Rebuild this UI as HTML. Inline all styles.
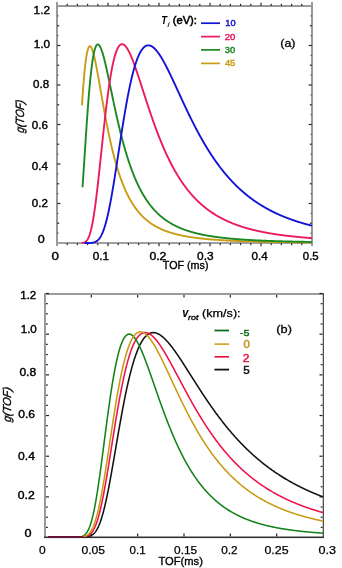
<!DOCTYPE html>
<html><head><meta charset="utf-8"><style>
html,body{margin:0;padding:0;background:#fff;width:342px;height:568px;overflow:hidden}
svg{display:block;will-change:transform}
</style></head><body>
<svg width="342" height="568" viewBox="0 0 342 568">
<rect x="56" y="2" width="2" height="244" fill="#999999"/>
<rect x="311" y="2" width="2" height="244" fill="#999999"/>
<rect x="56" y="5" width="257" height="2" fill="#999999"/>
<rect x="56" y="242" width="257" height="2" fill="#a0a0a0"/>
<rect x="66.60" y="243.2" width="1.2" height="2.0" fill="#2a2a2a"/>
<rect x="66.60" y="3.8" width="1.2" height="2.0" fill="#2a2a2a"/>
<rect x="76.80" y="243.2" width="1.2" height="2.0" fill="#2a2a2a"/>
<rect x="76.80" y="3.8" width="1.2" height="2.0" fill="#2a2a2a"/>
<rect x="87.00" y="243.2" width="1.2" height="2.0" fill="#2a2a2a"/>
<rect x="87.00" y="3.8" width="1.2" height="2.0" fill="#2a2a2a"/>
<rect x="97.20" y="243.2" width="1.2" height="2.0" fill="#2a2a2a"/>
<rect x="97.20" y="3.8" width="1.2" height="2.0" fill="#2a2a2a"/>
<rect x="107.40" y="243.2" width="1.2" height="3.0" fill="#2a2a2a"/>
<rect x="107.40" y="2.8" width="1.2" height="3.0" fill="#2a2a2a"/>
<rect x="117.60" y="243.2" width="1.2" height="2.0" fill="#2a2a2a"/>
<rect x="117.60" y="3.8" width="1.2" height="2.0" fill="#2a2a2a"/>
<rect x="127.80" y="243.2" width="1.2" height="2.0" fill="#2a2a2a"/>
<rect x="127.80" y="3.8" width="1.2" height="2.0" fill="#2a2a2a"/>
<rect x="138.00" y="243.2" width="1.2" height="2.0" fill="#2a2a2a"/>
<rect x="138.00" y="3.8" width="1.2" height="2.0" fill="#2a2a2a"/>
<rect x="148.20" y="243.2" width="1.2" height="2.0" fill="#2a2a2a"/>
<rect x="148.20" y="3.8" width="1.2" height="2.0" fill="#2a2a2a"/>
<rect x="158.40" y="243.2" width="1.2" height="3.0" fill="#2a2a2a"/>
<rect x="158.40" y="2.8" width="1.2" height="3.0" fill="#2a2a2a"/>
<rect x="168.60" y="243.2" width="1.2" height="2.0" fill="#2a2a2a"/>
<rect x="168.60" y="3.8" width="1.2" height="2.0" fill="#2a2a2a"/>
<rect x="178.80" y="243.2" width="1.2" height="2.0" fill="#2a2a2a"/>
<rect x="178.80" y="3.8" width="1.2" height="2.0" fill="#2a2a2a"/>
<rect x="189.00" y="243.2" width="1.2" height="2.0" fill="#2a2a2a"/>
<rect x="189.00" y="3.8" width="1.2" height="2.0" fill="#2a2a2a"/>
<rect x="199.20" y="243.2" width="1.2" height="2.0" fill="#2a2a2a"/>
<rect x="199.20" y="3.8" width="1.2" height="2.0" fill="#2a2a2a"/>
<rect x="209.40" y="243.2" width="1.2" height="3.0" fill="#2a2a2a"/>
<rect x="209.40" y="2.8" width="1.2" height="3.0" fill="#2a2a2a"/>
<rect x="219.60" y="243.2" width="1.2" height="2.0" fill="#2a2a2a"/>
<rect x="219.60" y="3.8" width="1.2" height="2.0" fill="#2a2a2a"/>
<rect x="229.80" y="243.2" width="1.2" height="2.0" fill="#2a2a2a"/>
<rect x="229.80" y="3.8" width="1.2" height="2.0" fill="#2a2a2a"/>
<rect x="240.00" y="243.2" width="1.2" height="2.0" fill="#2a2a2a"/>
<rect x="240.00" y="3.8" width="1.2" height="2.0" fill="#2a2a2a"/>
<rect x="250.20" y="243.2" width="1.2" height="2.0" fill="#2a2a2a"/>
<rect x="250.20" y="3.8" width="1.2" height="2.0" fill="#2a2a2a"/>
<rect x="260.40" y="243.2" width="1.2" height="3.0" fill="#2a2a2a"/>
<rect x="260.40" y="2.8" width="1.2" height="3.0" fill="#2a2a2a"/>
<rect x="270.60" y="243.2" width="1.2" height="2.0" fill="#2a2a2a"/>
<rect x="270.60" y="3.8" width="1.2" height="2.0" fill="#2a2a2a"/>
<rect x="280.80" y="243.2" width="1.2" height="2.0" fill="#2a2a2a"/>
<rect x="280.80" y="3.8" width="1.2" height="2.0" fill="#2a2a2a"/>
<rect x="291.00" y="243.2" width="1.2" height="2.0" fill="#2a2a2a"/>
<rect x="291.00" y="3.8" width="1.2" height="2.0" fill="#2a2a2a"/>
<rect x="301.20" y="243.2" width="1.2" height="2.0" fill="#2a2a2a"/>
<rect x="301.20" y="3.8" width="1.2" height="2.0" fill="#2a2a2a"/>
<rect x="57.2" y="232.53" width="1.3" height="1.2" fill="#555"/>
<rect x="310.50" y="232.53" width="1.3" height="1.2" fill="#555"/>
<rect x="57.2" y="222.65" width="2.0" height="1.2" fill="#2a2a2a"/>
<rect x="309.80" y="222.65" width="2.0" height="1.2" fill="#2a2a2a"/>
<rect x="57.2" y="212.78" width="1.3" height="1.2" fill="#555"/>
<rect x="310.50" y="212.78" width="1.3" height="1.2" fill="#555"/>
<rect x="57.2" y="202.90" width="3.2" height="1.2" fill="#2a2a2a"/>
<rect x="308.60" y="202.90" width="3.2" height="1.2" fill="#2a2a2a"/>
<rect x="57.2" y="193.03" width="1.3" height="1.2" fill="#555"/>
<rect x="310.50" y="193.03" width="1.3" height="1.2" fill="#555"/>
<rect x="57.2" y="183.15" width="2.0" height="1.2" fill="#2a2a2a"/>
<rect x="309.80" y="183.15" width="2.0" height="1.2" fill="#2a2a2a"/>
<rect x="57.2" y="173.28" width="1.3" height="1.2" fill="#555"/>
<rect x="310.50" y="173.28" width="1.3" height="1.2" fill="#555"/>
<rect x="57.2" y="163.40" width="3.2" height="1.2" fill="#2a2a2a"/>
<rect x="308.60" y="163.40" width="3.2" height="1.2" fill="#2a2a2a"/>
<rect x="57.2" y="153.53" width="1.3" height="1.2" fill="#555"/>
<rect x="310.50" y="153.53" width="1.3" height="1.2" fill="#555"/>
<rect x="57.2" y="143.65" width="2.0" height="1.2" fill="#2a2a2a"/>
<rect x="309.80" y="143.65" width="2.0" height="1.2" fill="#2a2a2a"/>
<rect x="57.2" y="133.78" width="1.3" height="1.2" fill="#555"/>
<rect x="310.50" y="133.78" width="1.3" height="1.2" fill="#555"/>
<rect x="57.2" y="123.90" width="3.2" height="1.2" fill="#2a2a2a"/>
<rect x="308.60" y="123.90" width="3.2" height="1.2" fill="#2a2a2a"/>
<rect x="57.2" y="114.03" width="1.3" height="1.2" fill="#555"/>
<rect x="310.50" y="114.03" width="1.3" height="1.2" fill="#555"/>
<rect x="57.2" y="104.15" width="2.0" height="1.2" fill="#2a2a2a"/>
<rect x="309.80" y="104.15" width="2.0" height="1.2" fill="#2a2a2a"/>
<rect x="57.2" y="94.28" width="1.3" height="1.2" fill="#555"/>
<rect x="310.50" y="94.28" width="1.3" height="1.2" fill="#555"/>
<rect x="57.2" y="84.40" width="3.2" height="1.2" fill="#2a2a2a"/>
<rect x="308.60" y="84.40" width="3.2" height="1.2" fill="#2a2a2a"/>
<rect x="57.2" y="74.53" width="1.3" height="1.2" fill="#555"/>
<rect x="310.50" y="74.53" width="1.3" height="1.2" fill="#555"/>
<rect x="57.2" y="64.65" width="2.0" height="1.2" fill="#2a2a2a"/>
<rect x="309.80" y="64.65" width="2.0" height="1.2" fill="#2a2a2a"/>
<rect x="57.2" y="54.77" width="1.3" height="1.2" fill="#555"/>
<rect x="310.50" y="54.77" width="1.3" height="1.2" fill="#555"/>
<rect x="57.2" y="44.90" width="3.2" height="1.2" fill="#2a2a2a"/>
<rect x="308.60" y="44.90" width="3.2" height="1.2" fill="#2a2a2a"/>
<rect x="57.2" y="35.02" width="1.3" height="1.2" fill="#555"/>
<rect x="310.50" y="35.02" width="1.3" height="1.2" fill="#555"/>
<rect x="57.2" y="25.15" width="2.0" height="1.2" fill="#2a2a2a"/>
<rect x="309.80" y="25.15" width="2.0" height="1.2" fill="#2a2a2a"/>
<rect x="57.2" y="15.28" width="1.3" height="1.2" fill="#555"/>
<rect x="310.50" y="15.28" width="1.3" height="1.2" fill="#555"/>
<path d="M81.97 105.40L82.35 99.48L82.73 93.85L83.12 88.52L83.50 83.51L83.89 78.83L84.27 74.47L84.65 70.46L85.04 66.77L85.42 63.42L85.81 60.40L86.19 57.69L86.57 55.30L86.96 53.22L87.34 51.43L87.73 49.93L88.11 48.70L88.49 47.74L88.88 47.02L89.26 46.55L89.65 46.30L90.03 46.26L90.41 46.43L90.80 46.78L91.18 47.31L91.57 48.01L91.95 48.87L92.33 49.86L92.72 51.00L93.10 52.25L93.49 53.62L93.87 55.09L94.25 56.66L94.64 58.32L95.02 60.05L95.41 61.85L95.79 63.72L96.17 65.65L96.56 67.63L96.94 69.65L97.33 71.71L97.71 73.80L98.10 75.92L98.48 78.06L98.86 80.23L99.25 82.41L99.63 84.60L100.02 86.79L100.40 88.99L100.78 91.20L101.17 93.40L101.55 95.60L101.94 97.79L102.32 99.97L102.70 102.14L103.09 104.29L103.47 106.44L103.86 108.57L104.24 110.68L104.62 112.77L105.01 114.84L105.39 116.89L105.78 118.92L106.16 120.92L106.54 122.91L106.93 124.87L107.31 126.80L107.70 128.71L108.08 130.60L108.46 132.46L108.85 134.29L109.23 136.10L109.62 137.88L110.00 139.63L110.38 141.36L110.77 143.06L111.15 144.74L111.54 146.39L111.92 148.01L112.30 149.61L112.69 151.18L113.07 152.72L113.46 154.24L113.84 155.73L114.22 157.20L114.61 158.65L114.99 160.06L115.38 161.46L115.76 162.83L116.14 164.18L116.53 165.50L116.91 166.80L117.30 168.07L117.68 169.33L118.06 170.56L118.45 171.77L118.83 172.95L119.22 174.12L119.60 175.26L119.98 176.39L120.37 177.49L120.75 178.57L121.14 179.64L121.52 180.68L121.91 181.71L122.29 182.71L122.67 183.70L123.06 184.67L123.44 185.62L123.83 186.56L124.21 187.47L124.59 188.37L124.98 189.26L125.36 190.13L125.75 190.98L126.13 191.81L126.51 192.63L126.90 193.44L127.28 194.23L127.67 195.01L128.05 195.77L128.43 196.52L128.82 197.25L129.20 197.97L129.59 198.68L129.97 199.37L130.35 200.05L130.74 200.72L131.12 201.38L131.51 202.03L131.89 202.66L132.27 203.28L132.66 203.89L133.04 204.49L133.43 205.08L133.81 205.66L134.19 206.23L134.58 206.79L134.96 207.33L135.35 207.87L135.73 208.40L136.11 208.92L136.50 209.43L136.88 209.93L137.27 210.42L137.65 210.90L138.03 211.38L138.42 211.84L138.80 212.30L139.19 212.75L139.57 213.19L139.95 213.63L140.34 214.05L140.72 214.47L141.11 214.89L141.49 215.29L141.87 215.69L142.26 216.08L142.64 216.46L143.03 216.84L143.41 217.21L143.79 217.58L144.18 217.94L144.56 218.29L144.95 218.63L145.33 218.97L145.71 219.31L146.10 219.64L146.48 219.96L146.87 220.28L147.25 220.59L147.64 220.90L148.02 221.20L148.40 221.50L148.79 221.79L149.17 222.08L149.56 222.36L149.94 222.64L150.32 222.92L150.71 223.19L151.09 223.45L151.48 223.71L151.86 223.97L152.24 224.22L152.63 224.47L153.01 224.71L153.40 224.95L153.78 225.19L154.16 225.42L154.55 225.65L154.93 225.87L155.32 226.10L155.70 226.31L156.08 226.53L156.47 226.74L156.85 226.95L157.24 227.15L157.62 227.35L158.00 227.55L158.39 227.75L158.77 227.94L159.16 228.13L159.54 228.32L159.92 228.50L160.31 228.68L160.69 228.86L161.08 229.03L161.46 229.21L161.84 229.38L162.23 229.54L162.61 229.71L163.00 229.87L163.38 230.03L163.76 230.19L164.15 230.34L164.53 230.50L164.92 230.65L165.30 230.79L165.68 230.94L166.07 231.08L166.45 231.23L166.84 231.37L167.22 231.50L167.60 231.64L167.99 231.77L168.37 231.90L168.76 232.03L169.14 232.16L169.52 232.29L169.91 232.41L170.29 232.54L170.68 232.66L171.06 232.77L171.44 232.89L171.83 233.01L172.21 233.12L172.60 233.23L172.98 233.35L173.37 233.45L173.75 233.56L174.13 233.67L174.52 233.77L174.90 233.88L175.29 233.98L175.67 234.08L176.05 234.18L176.44 234.28L176.82 234.37L177.21 234.47L177.59 234.56L177.97 234.65L178.36 234.74L178.74 234.83L179.13 234.92L179.51 235.01L179.89 235.10L180.28 235.18L180.66 235.27L181.05 235.35L181.43 235.43L181.81 235.51L182.20 235.59L182.58 235.67L182.97 235.75L183.35 235.82L183.73 235.90L184.12 235.97L184.50 236.05L184.89 236.12L185.27 236.19L185.65 236.26L186.04 236.33L186.42 236.40L186.81 236.47L187.19 236.54L187.57 236.60L187.96 236.67L188.34 236.73L188.73 236.80L189.11 236.86L189.49 236.92L189.88 236.98L190.26 237.05L190.65 237.11L191.03 237.16L191.41 237.22L191.80 237.28L192.18 237.34L192.57 237.39L192.95 237.45L193.33 237.50L193.72 237.56L194.10 237.61L194.49 237.66L194.87 237.72L195.25 237.77L195.64 237.82L196.02 237.87L196.41 237.92L196.79 237.97L197.17 238.02L197.56 238.06L197.94 238.11L198.33 238.16L198.71 238.21L199.10 238.25L199.48 238.30L199.86 238.34L200.25 238.38L200.63 238.43L201.02 238.47L201.40 238.51L201.78 238.56L202.17 238.60L202.55 238.64L202.94 238.68L203.32 238.72L203.70 238.76L204.09 238.80L204.47 238.84L204.86 238.88L205.24 238.91L205.62 238.95L206.01 238.99L206.39 239.02L206.78 239.06L207.16 239.10L207.54 239.13L207.93 239.17L208.31 239.20L208.70 239.23L209.08 239.27L209.46 239.30L209.85 239.33L210.23 239.37L210.62 239.40L211.00 239.43L211.38 239.46L211.77 239.49L212.15 239.53L212.54 239.56L212.92 239.59L213.30 239.62L213.69 239.65L214.07 239.67L214.46 239.70L214.84 239.73L215.22 239.76L215.61 239.79L215.99 239.82L216.38 239.84L216.76 239.87L217.14 239.90L217.53 239.92L217.91 239.95L218.30 239.98L218.68 240.00L219.06 240.03L219.45 240.05L219.83 240.08L220.22 240.10L220.60 240.13L220.98 240.15L221.37 240.17L221.75 240.20L222.14 240.22L222.52 240.24L222.90 240.27L223.29 240.29L223.67 240.31L224.06 240.33L224.44 240.36L224.83 240.38L225.21 240.40L225.59 240.42L225.98 240.44L226.36 240.46L226.75 240.48L227.13 240.50L227.51 240.52L227.90 240.54L228.28 240.56L228.67 240.58L229.05 240.60L229.43 240.62L229.82 240.64L230.20 240.66L230.59 240.68L230.97 240.70L231.35 240.71L231.74 240.73L232.12 240.75L232.51 240.77L232.89 240.78L233.27 240.80L233.66 240.82L234.04 240.84L234.43 240.85L234.81 240.87L235.19 240.89L235.58 240.90L235.96 240.92L236.35 240.93L236.73 240.95L237.11 240.97L237.50 240.98L237.88 241.00L238.27 241.01L238.65 241.03L239.03 241.04L239.42 241.06L239.80 241.07L240.19 241.09L240.57 241.10L240.95 241.12L241.34 241.13L241.72 241.14L242.11 241.16L242.49 241.17L242.87 241.19L243.26 241.20L243.64 241.21L244.03 241.23L244.41 241.24L244.79 241.25L245.18 241.26L245.56 241.28L245.95 241.29L246.33 241.30L246.71 241.31L247.10 241.33L247.48 241.34L247.87 241.35L248.25 241.36L248.64 241.37L249.02 241.39L249.40 241.40L249.79 241.41L250.17 241.42L250.56 241.43L250.94 241.44L251.32 241.45L251.71 241.47L252.09 241.48L252.48 241.49L252.86 241.50L253.24 241.51L253.63 241.52L254.01 241.53L254.40 241.54L254.78 241.55L255.16 241.56L255.55 241.57L255.93 241.58L256.32 241.59L256.70 241.60L257.08 241.61L257.47 241.62L257.85 241.63L258.24 241.64L258.62 241.65L259.00 241.66L259.39 241.67L259.77 241.68L260.16 241.69L260.54 241.69L260.92 241.70L261.31 241.71L261.69 241.72L262.08 241.73L262.46 241.74L262.84 241.75L263.23 241.76L263.61 241.76L264.00 241.77L264.38 241.78L264.76 241.79L265.15 241.80L265.53 241.80L265.92 241.81L266.30 241.82L266.68 241.83L267.07 241.84L267.45 241.84L267.84 241.85L268.22 241.86L268.60 241.87L268.99 241.87L269.37 241.88L269.76 241.89L270.14 241.90L270.52 241.90L270.91 241.91L271.29 241.92L271.68 241.92L272.06 241.93L272.44 241.94L272.83 241.95L273.21 241.95L273.60 241.96L273.98 241.97L274.37 241.97L274.75 241.98L275.13 241.99L275.52 241.99L275.90 242.00L276.29 242.00L276.67 242.01L277.05 242.02L277.44 242.02L277.82 242.03L278.21 242.04L278.59 242.04L278.97 242.05L279.36 242.05L279.74 242.06L280.13 242.07L280.51 242.07L280.89 242.08L281.28 242.08L281.66 242.09L282.05 242.09L282.43 242.10L282.81 242.11L283.20 242.11L283.58 242.12L283.97 242.12L284.35 242.13L284.73 242.13L285.12 242.14L285.50 242.14L285.89 242.15L286.27 242.15L286.65 242.16L287.04 242.16L287.42 242.17L287.81 242.17L288.19 242.18L288.57 242.18L288.96 242.19L289.34 242.19L289.73 242.20L290.11 242.20L290.49 242.21L290.88 242.21L291.26 242.22L291.65 242.22L292.03 242.23L292.41 242.23L292.80 242.24L293.18 242.24L293.57 242.25L293.95 242.25L294.33 242.25L294.72 242.26L295.10 242.26L295.49 242.27L295.87 242.27L296.25 242.28L296.64 242.28L297.02 242.28L297.41 242.29L297.79 242.29L298.17 242.30L298.56 242.30L298.94 242.31L299.33 242.31L299.71 242.31L300.10 242.32L300.48 242.32L300.86 242.32L301.25 242.33L301.63 242.33L302.02 242.34L302.40 242.34L302.78 242.34L303.17 242.35L303.55 242.35L303.94 242.36L304.32 242.36L304.70 242.36L305.09 242.37L305.47 242.37L305.86 242.37L306.24 242.38L306.62 242.38L307.01 242.38L307.39 242.39L307.78 242.39L308.16 242.39L308.54 242.40L308.93 242.40L309.31 242.40L309.70 242.41L310.08 242.41L310.46 242.41L310.85 242.42L311.23 242.42L311.62 242.42L312.00 242.43" fill="none" stroke="#c99d17" stroke-width="1.9" stroke-linejoin="round"/>
<path d="M82.50 187.20L82.89 181.72L83.27 176.10L83.65 170.37L84.03 164.56L84.42 158.69L84.80 152.81L85.18 146.93L85.57 141.08L85.95 135.28L86.33 129.57L86.72 123.96L87.10 118.47L87.48 113.11L87.87 107.92L88.25 102.89L88.63 98.05L89.02 93.40L89.40 88.95L89.78 84.71L90.16 80.68L90.55 76.87L90.93 73.29L91.31 69.93L91.70 66.79L92.08 63.88L92.46 61.18L92.85 58.71L93.23 56.45L93.61 54.41L94.00 52.57L94.38 50.94L94.76 49.50L95.15 48.26L95.53 47.20L95.91 46.33L96.29 45.62L96.68 45.08L97.06 44.71L97.44 44.48L97.83 44.41L98.21 44.47L98.59 44.67L98.98 44.99L99.36 45.43L99.74 45.99L100.13 46.66L100.51 47.42L100.89 48.29L101.28 49.24L101.66 50.27L102.04 51.39L102.42 52.58L102.81 53.84L103.19 55.16L103.57 56.54L103.96 57.98L104.34 59.46L104.72 60.99L105.11 62.57L105.49 64.18L105.87 65.83L106.26 67.50L106.64 69.21L107.02 70.94L107.41 72.69L107.79 74.47L108.17 76.26L108.56 78.06L108.94 79.87L109.32 81.70L109.70 83.53L110.09 85.36L110.47 87.20L110.85 89.04L111.24 90.88L111.62 92.72L112.00 94.56L112.39 96.39L112.77 98.22L113.15 100.03L113.54 101.85L113.92 103.65L114.30 105.44L114.69 107.22L115.07 108.99L115.45 110.75L115.83 112.49L116.22 114.22L116.60 115.94L116.98 117.64L117.37 119.33L117.75 121.00L118.13 122.65L118.52 124.29L118.90 125.91L119.28 127.51L119.67 129.10L120.05 130.67L120.43 132.22L120.82 133.75L121.20 135.27L121.58 136.77L121.96 138.25L122.35 139.71L122.73 141.15L123.11 142.57L123.50 143.98L123.88 145.37L124.26 146.74L124.65 148.09L125.03 149.42L125.41 150.74L125.80 152.04L126.18 153.32L126.56 154.58L126.95 155.83L127.33 157.05L127.71 158.26L128.10 159.46L128.48 160.63L128.86 161.79L129.24 162.93L129.63 164.06L130.01 165.17L130.39 166.26L130.78 167.34L131.16 168.40L131.54 169.45L131.93 170.48L132.31 171.49L132.69 172.49L133.08 173.47L133.46 174.44L133.84 175.40L134.23 176.34L134.61 177.27L134.99 178.18L135.37 179.08L135.76 179.96L136.14 180.84L136.52 181.69L136.91 182.54L137.29 183.37L137.67 184.19L138.06 185.00L138.44 185.79L138.82 186.58L139.21 187.35L139.59 188.11L139.97 188.85L140.36 189.59L140.74 190.31L141.12 191.03L141.50 191.73L141.89 192.42L142.27 193.10L142.65 193.77L143.04 194.43L143.42 195.08L143.80 195.72L144.19 196.35L144.57 196.98L144.95 197.59L145.34 198.19L145.72 198.78L146.10 199.37L146.49 199.94L146.87 200.51L147.25 201.06L147.63 201.61L148.02 202.15L148.40 202.69L148.78 203.21L149.17 203.73L149.55 204.24L149.93 204.74L150.32 205.23L150.70 205.72L151.08 206.20L151.47 206.67L151.85 207.13L152.23 207.59L152.62 208.04L153.00 208.48L153.38 208.92L153.77 209.35L154.15 209.78L154.53 210.19L154.91 210.61L155.30 211.01L155.68 211.41L156.06 211.80L156.45 212.19L156.83 212.57L157.21 212.95L157.60 213.32L157.98 213.69L158.36 214.05L158.75 214.40L159.13 214.75L159.51 215.10L159.90 215.44L160.28 215.77L160.66 216.10L161.04 216.43L161.43 216.75L161.81 217.06L162.19 217.37L162.58 217.68L162.96 217.98L163.34 218.28L163.73 218.58L164.11 218.87L164.49 219.15L164.88 219.43L165.26 219.71L165.64 219.98L166.03 220.25L166.41 220.52L166.79 220.78L167.17 221.04L167.56 221.30L167.94 221.55L168.32 221.79L168.71 222.04L169.09 222.28L169.47 222.52L169.86 222.75L170.24 222.98L170.62 223.21L171.01 223.44L171.39 223.66L171.77 223.88L172.16 224.09L172.54 224.30L172.92 224.51L173.31 224.72L173.69 224.93L174.07 225.13L174.45 225.33L174.84 225.52L175.22 225.71L175.60 225.91L175.99 226.09L176.37 226.28L176.75 226.46L177.14 226.64L177.52 226.82L177.90 227.00L178.29 227.17L178.67 227.34L179.05 227.51L179.44 227.68L179.82 227.84L180.20 228.01L180.58 228.17L180.97 228.33L181.35 228.48L181.73 228.64L182.12 228.79L182.50 228.94L182.88 229.09L183.27 229.23L183.65 229.38L184.03 229.52L184.42 229.66L184.80 229.80L185.18 229.94L185.57 230.07L185.95 230.21L186.33 230.34L186.71 230.47L187.10 230.60L187.48 230.73L187.86 230.85L188.25 230.98L188.63 231.10L189.01 231.22L189.40 231.34L189.78 231.46L190.16 231.57L190.55 231.69L190.93 231.80L191.31 231.91L191.70 232.03L192.08 232.14L192.46 232.24L192.84 232.35L193.23 232.46L193.61 232.56L193.99 232.66L194.38 232.76L194.76 232.87L195.14 232.96L195.53 233.06L195.91 233.16L196.29 233.26L196.68 233.35L197.06 233.44L197.44 233.54L197.83 233.63L198.21 233.72L198.59 233.81L198.98 233.89L199.36 233.98L199.74 234.07L200.12 234.15L200.51 234.24L200.89 234.32L201.27 234.40L201.66 234.48L202.04 234.56L202.42 234.64L202.81 234.72L203.19 234.80L203.57 234.88L203.96 234.95L204.34 235.03L204.72 235.10L205.11 235.17L205.49 235.24L205.87 235.32L206.25 235.39L206.64 235.46L207.02 235.53L207.40 235.59L207.79 235.66L208.17 235.73L208.55 235.79L208.94 235.86L209.32 235.92L209.70 235.99L210.09 236.05L210.47 236.11L210.85 236.17L211.24 236.24L211.62 236.30L212.00 236.36L212.38 236.42L212.77 236.47L213.15 236.53L213.53 236.59L213.92 236.64L214.30 236.70L214.68 236.76L215.07 236.81L215.45 236.86L215.83 236.92L216.22 236.97L216.60 237.02L216.98 237.08L217.37 237.13L217.75 237.18L218.13 237.23L218.51 237.28L218.90 237.33L219.28 237.37L219.66 237.42L220.05 237.47L220.43 237.52L220.81 237.56L221.20 237.61L221.58 237.65L221.96 237.70L222.35 237.74L222.73 237.79L223.11 237.83L223.50 237.88L223.88 237.92L224.26 237.96L224.65 238.00L225.03 238.04L225.41 238.09L225.79 238.13L226.18 238.17L226.56 238.21L226.94 238.25L227.33 238.28L227.71 238.32L228.09 238.36L228.48 238.40L228.86 238.44L229.24 238.47L229.63 238.51L230.01 238.55L230.39 238.58L230.78 238.62L231.16 238.65L231.54 238.69L231.92 238.72L232.31 238.76L232.69 238.79L233.07 238.82L233.46 238.86L233.84 238.89L234.22 238.92L234.61 238.95L234.99 238.99L235.37 239.02L235.76 239.05L236.14 239.08L236.52 239.11L236.91 239.14L237.29 239.17L237.67 239.20L238.05 239.23L238.44 239.26L238.82 239.29L239.20 239.32L239.59 239.35L239.97 239.37L240.35 239.40L240.74 239.43L241.12 239.46L241.50 239.48L241.89 239.51L242.27 239.54L242.65 239.56L243.04 239.59L243.42 239.62L243.80 239.64L244.19 239.67L244.57 239.69L244.95 239.72L245.33 239.74L245.72 239.77L246.10 239.79L246.48 239.81L246.87 239.84L247.25 239.86L247.63 239.88L248.02 239.91L248.40 239.93L248.78 239.95L249.17 239.98L249.55 240.00L249.93 240.02L250.32 240.04L250.70 240.06L251.08 240.08L251.46 240.11L251.85 240.13L252.23 240.15L252.61 240.17L253.00 240.19L253.38 240.21L253.76 240.23L254.15 240.25L254.53 240.27L254.91 240.29L255.30 240.31L255.68 240.33L256.06 240.35L256.45 240.36L256.83 240.38L257.21 240.40L257.59 240.42L257.98 240.44L258.36 240.46L258.74 240.47L259.13 240.49L259.51 240.51L259.89 240.53L260.28 240.54L260.66 240.56L261.04 240.58L261.43 240.60L261.81 240.61L262.19 240.63L262.58 240.65L262.96 240.66L263.34 240.68L263.72 240.69L264.11 240.71L264.49 240.73L264.87 240.74L265.26 240.76L265.64 240.77L266.02 240.79L266.41 240.80L266.79 240.82L267.17 240.83L267.56 240.85L267.94 240.86L268.32 240.88L268.71 240.89L269.09 240.90L269.47 240.92L269.86 240.93L270.24 240.95L270.62 240.96L271.00 240.97L271.39 240.99L271.77 241.00L272.15 241.01L272.54 241.03L272.92 241.04L273.30 241.05L273.69 241.06L274.07 241.08L274.45 241.09L274.84 241.10L275.22 241.12L275.60 241.13L275.99 241.14L276.37 241.15L276.75 241.16L277.13 241.18L277.52 241.19L277.90 241.20L278.28 241.21L278.67 241.22L279.05 241.23L279.43 241.25L279.82 241.26L280.20 241.27L280.58 241.28L280.97 241.29L281.35 241.30L281.73 241.31L282.12 241.32L282.50 241.33L282.88 241.34L283.26 241.35L283.65 241.36L284.03 241.37L284.41 241.39L284.80 241.40L285.18 241.41L285.56 241.42L285.95 241.43L286.33 241.44L286.71 241.44L287.10 241.45L287.48 241.46L287.86 241.47L288.25 241.48L288.63 241.49L289.01 241.50L289.40 241.51L289.78 241.52L290.16 241.53L290.54 241.54L290.93 241.55L291.31 241.56L291.69 241.57L292.08 241.57L292.46 241.58L292.84 241.59L293.23 241.60L293.61 241.61L293.99 241.62L294.38 241.63L294.76 241.63L295.14 241.64L295.53 241.65L295.91 241.66L296.29 241.67L296.67 241.67L297.06 241.68L297.44 241.69L297.82 241.70L298.21 241.71L298.59 241.71L298.97 241.72L299.36 241.73L299.74 241.74L300.12 241.74L300.51 241.75L300.89 241.76L301.27 241.77L301.66 241.77L302.04 241.78L302.42 241.79L302.80 241.79L303.19 241.80L303.57 241.81L303.95 241.82L304.34 241.82L304.72 241.83L305.10 241.84L305.49 241.84L305.87 241.85L306.25 241.86L306.64 241.86L307.02 241.87L307.40 241.88L307.79 241.88L308.17 241.89L308.55 241.89L308.93 241.90L309.32 241.91L309.70 241.91L310.08 241.92L310.47 241.93L310.85 241.93L311.23 241.94L311.62 241.94L312.00 241.95" fill="none" stroke="#1b8a22" stroke-width="1.9" stroke-linejoin="round"/>
<path d="M81.63 242.93L82.02 242.90L82.40 242.86L82.79 242.80L83.17 242.74L83.56 242.65L83.94 242.54L84.33 242.40L84.71 242.23L85.09 242.02L85.48 241.77L85.86 241.47L86.25 241.12L86.63 240.71L87.02 240.23L87.40 239.68L87.79 239.05L88.17 238.33L88.56 237.53L88.94 236.62L89.32 235.62L89.71 234.51L90.09 233.30L90.48 231.97L90.86 230.52L91.25 228.95L91.63 227.26L92.02 225.45L92.40 223.52L92.79 221.47L93.17 219.29L93.56 217.00L93.94 214.58L94.32 212.06L94.71 209.42L95.09 206.67L95.48 203.82L95.86 200.88L96.25 197.84L96.63 194.71L97.02 191.50L97.40 188.22L97.79 184.87L98.17 181.45L98.55 177.98L98.94 174.47L99.32 170.91L99.71 167.32L100.09 163.70L100.48 160.06L100.86 156.41L101.25 152.75L101.63 149.09L102.02 145.44L102.40 141.80L102.79 138.18L103.17 134.59L103.55 131.02L103.94 127.49L104.32 124.00L104.71 120.56L105.09 117.17L105.48 113.83L105.86 110.54L106.25 107.32L106.63 104.17L107.02 101.08L107.40 98.07L107.78 95.13L108.17 92.26L108.55 89.48L108.94 86.77L109.32 84.15L109.71 81.61L110.09 79.15L110.48 76.78L110.86 74.50L111.25 72.30L111.63 70.19L112.02 68.17L112.40 66.24L112.78 64.39L113.17 62.63L113.55 60.96L113.94 59.37L114.32 57.87L114.71 56.46L115.09 55.13L115.48 53.88L115.86 52.72L116.25 51.63L116.63 50.63L117.01 49.70L117.40 48.85L117.78 48.08L118.17 47.38L118.55 46.76L118.94 46.20L119.32 45.72L119.71 45.30L120.09 44.95L120.48 44.67L120.86 44.45L121.25 44.29L121.63 44.19L122.01 44.15L122.40 44.17L122.78 44.24L123.17 44.36L123.55 44.54L123.94 44.77L124.32 45.05L124.71 45.37L125.09 45.74L125.48 46.15L125.86 46.61L126.24 47.10L126.63 47.64L127.01 48.21L127.40 48.82L127.78 49.47L128.17 50.14L128.55 50.86L128.94 51.60L129.32 52.37L129.71 53.17L130.09 54.00L130.48 54.85L130.86 55.73L131.24 56.63L131.63 57.55L132.01 58.50L132.40 59.46L132.78 60.45L133.17 61.45L133.55 62.47L133.94 63.50L134.32 64.55L134.71 65.62L135.09 66.69L135.48 67.78L135.86 68.89L136.24 70.00L136.63 71.12L137.01 72.25L137.40 73.39L137.78 74.54L138.17 75.70L138.55 76.86L138.94 78.03L139.32 79.20L139.71 80.38L140.09 81.56L140.47 82.74L140.86 83.93L141.24 85.12L141.63 86.31L142.01 87.50L142.40 88.70L142.78 89.89L143.17 91.09L143.55 92.28L143.94 93.47L144.32 94.66L144.71 95.85L145.09 97.04L145.47 98.23L145.86 99.41L146.24 100.59L146.63 101.77L147.01 102.94L147.40 104.11L147.78 105.28L148.17 106.44L148.55 107.60L148.94 108.75L149.32 109.90L149.70 111.04L150.09 112.18L150.47 113.31L150.86 114.44L151.24 115.56L151.63 116.67L152.01 117.78L152.40 118.88L152.78 119.98L153.17 121.07L153.55 122.15L153.94 123.23L154.32 124.30L154.70 125.36L155.09 126.42L155.47 127.47L155.86 128.51L156.24 129.54L156.63 130.57L157.01 131.59L157.40 132.60L157.78 133.61L158.17 134.60L158.55 135.59L158.93 136.58L159.32 137.55L159.70 138.52L160.09 139.48L160.47 140.43L160.86 141.37L161.24 142.31L161.63 143.24L162.01 144.16L162.40 145.08L162.78 145.98L163.17 146.88L163.55 147.77L163.93 148.66L164.32 149.53L164.70 150.40L165.09 151.26L165.47 152.12L165.86 152.96L166.24 153.80L166.63 154.63L167.01 155.45L167.40 156.27L167.78 157.08L168.16 157.88L168.55 158.67L168.93 159.46L169.32 160.24L169.70 161.01L170.09 161.78L170.47 162.54L170.86 163.29L171.24 164.03L171.63 164.77L172.01 165.50L172.40 166.22L172.78 166.94L173.16 167.65L173.55 168.35L173.93 169.05L174.32 169.73L174.70 170.42L175.09 171.09L175.47 171.76L175.86 172.43L176.24 173.08L176.63 173.73L177.01 174.38L177.39 175.01L177.78 175.64L178.16 176.27L178.55 176.89L178.93 177.50L179.32 178.11L179.70 178.71L180.09 179.30L180.47 179.89L180.86 180.48L181.24 181.05L181.63 181.63L182.01 182.19L182.39 182.75L182.78 183.31L183.16 183.86L183.55 184.40L183.93 184.94L184.32 185.47L184.70 186.00L185.09 186.52L185.47 187.04L185.86 187.55L186.24 188.06L186.62 188.56L187.01 189.05L187.39 189.55L187.78 190.03L188.16 190.51L188.55 190.99L188.93 191.46L189.32 191.93L189.70 192.39L190.09 192.85L190.47 193.30L190.86 193.75L191.24 194.20L191.62 194.64L192.01 195.07L192.39 195.50L192.78 195.93L193.16 196.35L193.55 196.77L193.93 197.19L194.32 197.60L194.70 198.00L195.09 198.40L195.47 198.80L195.86 199.19L196.24 199.58L196.62 199.97L197.01 200.35L197.39 200.73L197.78 201.10L198.16 201.47L198.55 201.84L198.93 202.20L199.32 202.56L199.70 202.92L200.09 203.27L200.47 203.62L200.85 203.96L201.24 204.31L201.62 204.64L202.01 204.98L202.39 205.31L202.78 205.64L203.16 205.96L203.55 206.28L203.93 206.60L204.32 206.92L204.70 207.23L205.09 207.54L205.47 207.85L205.85 208.15L206.24 208.45L206.62 208.75L207.01 209.04L207.39 209.33L207.78 209.62L208.16 209.90L208.55 210.19L208.93 210.47L209.32 210.74L209.70 211.02L210.08 211.29L210.47 211.56L210.85 211.82L211.24 212.09L211.62 212.35L212.01 212.61L212.39 212.86L212.78 213.12L213.16 213.37L213.55 213.62L213.93 213.86L214.32 214.11L214.70 214.35L215.08 214.59L215.47 214.82L215.85 215.06L216.24 215.29L216.62 215.52L217.01 215.75L217.39 215.97L217.78 216.20L218.16 216.42L218.55 216.63L218.93 216.85L219.31 217.07L219.70 217.28L220.08 217.49L220.47 217.70L220.85 217.90L221.24 218.11L221.62 218.31L222.01 218.51L222.39 218.71L222.78 218.91L223.16 219.10L223.55 219.30L223.93 219.49L224.31 219.68L224.70 219.86L225.08 220.05L225.47 220.23L225.85 220.42L226.24 220.60L226.62 220.78L227.01 220.95L227.39 221.13L227.78 221.30L228.16 221.48L228.54 221.65L228.93 221.82L229.31 221.98L229.70 222.15L230.08 222.31L230.47 222.48L230.85 222.64L231.24 222.80L231.62 222.96L232.01 223.11L232.39 223.27L232.78 223.42L233.16 223.57L233.54 223.73L233.93 223.88L234.31 224.02L234.70 224.17L235.08 224.32L235.47 224.46L235.85 224.60L236.24 224.75L236.62 224.89L237.01 225.02L237.39 225.16L237.77 225.30L238.16 225.43L238.54 225.57L238.93 225.70L239.31 225.83L239.70 225.96L240.08 226.09L240.47 226.22L240.85 226.35L241.24 226.47L241.62 226.60L242.01 226.72L242.39 226.84L242.77 226.97L243.16 227.09L243.54 227.21L243.93 227.32L244.31 227.44L244.70 227.56L245.08 227.67L245.47 227.79L245.85 227.90L246.24 228.01L246.62 228.12L247.00 228.23L247.39 228.34L247.77 228.45L248.16 228.56L248.54 228.66L248.93 228.77L249.31 228.87L249.70 228.97L250.08 229.08L250.47 229.18L250.85 229.28L251.24 229.38L251.62 229.48L252.00 229.58L252.39 229.67L252.77 229.77L253.16 229.86L253.54 229.96L253.93 230.05L254.31 230.15L254.70 230.24L255.08 230.33L255.47 230.42L255.85 230.51L256.24 230.60L256.62 230.69L257.00 230.78L257.39 230.86L257.77 230.95L258.16 231.03L258.54 231.12L258.93 231.20L259.31 231.29L259.70 231.37L260.08 231.45L260.47 231.53L260.85 231.61L261.23 231.69L261.62 231.77L262.00 231.85L262.39 231.93L262.77 232.00L263.16 232.08L263.54 232.16L263.93 232.23L264.31 232.31L264.70 232.38L265.08 232.45L265.47 232.53L265.85 232.60L266.23 232.67L266.62 232.74L267.00 232.81L267.39 232.88L267.77 232.95L268.16 233.02L268.54 233.09L268.93 233.15L269.31 233.22L269.70 233.29L270.08 233.35L270.46 233.42L270.85 233.48L271.23 233.55L271.62 233.61L272.00 233.67L272.39 233.74L272.77 233.80L273.16 233.86L273.54 233.92L273.93 233.98L274.31 234.04L274.70 234.10L275.08 234.16L275.46 234.22L275.85 234.28L276.23 234.34L276.62 234.39L277.00 234.45L277.39 234.51L277.77 234.56L278.16 234.62L278.54 234.67L278.93 234.73L279.31 234.78L279.69 234.84L280.08 234.89L280.46 234.94L280.85 235.00L281.23 235.05L281.62 235.10L282.00 235.15L282.39 235.20L282.77 235.25L283.16 235.30L283.54 235.35L283.93 235.40L284.31 235.45L284.69 235.50L285.08 235.55L285.46 235.59L285.85 235.64L286.23 235.69L286.62 235.74L287.00 235.78L287.39 235.83L287.77 235.87L288.16 235.92L288.54 235.96L288.92 236.01L289.31 236.05L289.69 236.10L290.08 236.14L290.46 236.18L290.85 236.23L291.23 236.27L291.62 236.31L292.00 236.35L292.39 236.39L292.77 236.43L293.16 236.48L293.54 236.52L293.92 236.56L294.31 236.60L294.69 236.64L295.08 236.68L295.46 236.72L295.85 236.75L296.23 236.79L296.62 236.83L297.00 236.87L297.39 236.91L297.77 236.94L298.15 236.98L298.54 237.02L298.92 237.05L299.31 237.09L299.69 237.13L300.08 237.16L300.46 237.20L300.85 237.23L301.23 237.27L301.62 237.30L302.00 237.34L302.39 237.37L302.77 237.41L303.15 237.44L303.54 237.47L303.92 237.51L304.31 237.54L304.69 237.57L305.08 237.60L305.46 237.64L305.85 237.67L306.23 237.70L306.62 237.73L307.00 237.76L307.38 237.79L307.77 237.83L308.15 237.86L308.54 237.89L308.92 237.92L309.31 237.95L309.69 237.98L310.08 238.01L310.46 238.04L310.85 238.06L311.23 238.09L311.62 238.12L312.00 238.15" fill="none" stroke="#ec1a5c" stroke-width="1.9" stroke-linejoin="round"/>
<path d="M84.49 243.00L84.87 243.00L85.25 243.00L85.63 243.00L86.01 243.00L86.39 243.00L86.77 242.99L87.15 242.99L87.53 242.99L87.91 242.98L88.29 242.98L88.67 242.97L89.05 242.96L89.43 242.95L89.81 242.94L90.19 242.92L90.57 242.90L90.95 242.87L91.33 242.84L91.71 242.80L92.09 242.75L92.47 242.70L92.84 242.63L93.22 242.56L93.60 242.47L93.98 242.37L94.36 242.26L94.74 242.13L95.12 241.98L95.50 241.81L95.88 241.61L96.26 241.40L96.64 241.16L97.02 240.89L97.40 240.59L97.78 240.26L98.16 239.90L98.54 239.50L98.92 239.07L99.30 238.60L99.68 238.08L100.06 237.53L100.44 236.93L100.82 236.28L101.20 235.59L101.58 234.85L101.96 234.05L102.34 233.21L102.72 232.31L103.10 231.37L103.48 230.36L103.86 229.30L104.24 228.19L104.62 227.02L105.00 225.79L105.38 224.51L105.76 223.17L106.14 221.77L106.52 220.32L106.90 218.81L107.28 217.25L107.66 215.63L108.04 213.96L108.42 212.24L108.80 210.46L109.18 208.64L109.56 206.76L109.94 204.84L110.32 202.87L110.70 200.86L111.08 198.80L111.46 196.70L111.84 194.56L112.22 192.39L112.60 190.18L112.98 187.94L113.36 185.66L113.73 183.36L114.11 181.02L114.49 178.67L114.87 176.29L115.25 173.89L115.63 171.47L116.01 169.03L116.39 166.59L116.77 164.12L117.15 161.65L117.53 159.18L117.91 156.69L118.29 154.21L118.67 151.72L119.05 149.23L119.43 146.75L119.81 144.27L120.19 141.80L120.57 139.34L120.95 136.89L121.33 134.45L121.71 132.02L122.09 129.61L122.47 127.22L122.85 124.85L123.23 122.50L123.61 120.17L123.99 117.87L124.37 115.58L124.75 113.33L125.13 111.10L125.51 108.91L125.89 106.74L126.27 104.60L126.65 102.50L127.03 100.42L127.41 98.39L127.79 96.38L128.17 94.41L128.55 92.48L128.93 90.58L129.31 88.73L129.69 86.91L130.07 85.12L130.45 83.38L130.83 81.68L131.21 80.01L131.59 78.39L131.97 76.80L132.35 75.26L132.73 73.76L133.11 72.30L133.49 70.87L133.87 69.49L134.25 68.16L134.62 66.86L135.00 65.60L135.38 64.38L135.76 63.21L136.14 62.07L136.52 60.98L136.90 59.93L137.28 58.91L137.66 57.94L138.04 57.00L138.42 56.11L138.80 55.25L139.18 54.44L139.56 53.66L139.94 52.92L140.32 52.21L140.70 51.55L141.08 50.92L141.46 50.33L141.84 49.77L142.22 49.25L142.60 48.76L142.98 48.31L143.36 47.89L143.74 47.51L144.12 47.16L144.50 46.84L144.88 46.56L145.26 46.30L145.64 46.08L146.02 45.89L146.40 45.73L146.78 45.59L147.16 45.49L147.54 45.41L147.92 45.37L148.30 45.35L148.68 45.35L149.06 45.39L149.44 45.45L149.82 45.53L150.20 45.64L150.58 45.77L150.96 45.93L151.34 46.11L151.72 46.32L152.10 46.54L152.48 46.79L152.86 47.06L153.24 47.35L153.62 47.66L154.00 47.99L154.38 48.33L154.76 48.70L155.14 49.09L155.51 49.49L155.89 49.91L156.27 50.35L156.65 50.80L157.03 51.27L157.41 51.75L157.79 52.25L158.17 52.77L158.55 53.30L158.93 53.84L159.31 54.39L159.69 54.96L160.07 55.54L160.45 56.14L160.83 56.74L161.21 57.36L161.59 57.99L161.97 58.62L162.35 59.27L162.73 59.93L163.11 60.60L163.49 61.28L163.87 61.96L164.25 62.66L164.63 63.36L165.01 64.07L165.39 64.79L165.77 65.51L166.15 66.24L166.53 66.98L166.91 67.73L167.29 68.48L167.67 69.23L168.05 69.99L168.43 70.76L168.81 71.53L169.19 72.31L169.57 73.09L169.95 73.88L170.33 74.67L170.71 75.46L171.09 76.26L171.47 77.06L171.85 77.86L172.23 78.67L172.61 79.48L172.99 80.29L173.37 81.10L173.75 81.92L174.13 82.73L174.51 83.55L174.89 84.37L175.27 85.19L175.65 86.02L176.03 86.84L176.40 87.67L176.78 88.49L177.16 89.32L177.54 90.14L177.92 90.97L178.30 91.80L178.68 92.62L179.06 93.45L179.44 94.27L179.82 95.10L180.20 95.92L180.58 96.75L180.96 97.57L181.34 98.39L181.72 99.21L182.10 100.03L182.48 100.85L182.86 101.67L183.24 102.48L183.62 103.30L184.00 104.11L184.38 104.92L184.76 105.73L185.14 106.54L185.52 107.34L185.90 108.14L186.28 108.94L186.66 109.74L187.04 110.54L187.42 111.33L187.80 112.12L188.18 112.91L188.56 113.70L188.94 114.48L189.32 115.26L189.70 116.04L190.08 116.81L190.46 117.59L190.84 118.36L191.22 119.12L191.60 119.89L191.98 120.65L192.36 121.40L192.74 122.16L193.12 122.91L193.50 123.66L193.88 124.40L194.26 125.14L194.64 125.88L195.02 126.62L195.40 127.35L195.78 128.08L196.16 128.80L196.54 129.52L196.92 130.24L197.29 130.96L197.67 131.67L198.05 132.37L198.43 133.08L198.81 133.78L199.19 134.48L199.57 135.17L199.95 135.86L200.33 136.55L200.71 137.23L201.09 137.91L201.47 138.58L201.85 139.25L202.23 139.92L202.61 140.59L202.99 141.25L203.37 141.90L203.75 142.56L204.13 143.21L204.51 143.85L204.89 144.50L205.27 145.14L205.65 145.77L206.03 146.40L206.41 147.03L206.79 147.65L207.17 148.27L207.55 148.89L207.93 149.50L208.31 150.11L208.69 150.72L209.07 151.32L209.45 151.92L209.83 152.52L210.21 153.11L210.59 153.69L210.97 154.28L211.35 154.86L211.73 155.44L212.11 156.01L212.49 156.58L212.87 157.14L213.25 157.71L213.63 158.27L214.01 158.82L214.39 159.37L214.77 159.92L215.15 160.47L215.53 161.01L215.91 161.55L216.29 162.08L216.67 162.61L217.05 163.14L217.43 163.66L217.81 164.18L218.18 164.70L218.56 165.22L218.94 165.73L219.32 166.23L219.70 166.74L220.08 167.24L220.46 167.74L220.84 168.23L221.22 168.72L221.60 169.21L221.98 169.69L222.36 170.17L222.74 170.65L223.12 171.12L223.50 171.60L223.88 172.06L224.26 172.53L224.64 172.99L225.02 173.45L225.40 173.91L225.78 174.36L226.16 174.81L226.54 175.25L226.92 175.70L227.30 176.14L227.68 176.57L228.06 177.01L228.44 177.44L228.82 177.87L229.20 178.29L229.58 178.72L229.96 179.14L230.34 179.55L230.72 179.97L231.10 180.38L231.48 180.78L231.86 181.19L232.24 181.59L232.62 181.99L233.00 182.39L233.38 182.78L233.76 183.17L234.14 183.56L234.52 183.95L234.90 184.33L235.28 184.71L235.66 185.09L236.04 185.47L236.42 185.84L236.80 186.21L237.18 186.58L237.56 186.94L237.94 187.30L238.32 187.66L238.70 188.02L239.07 188.38L239.45 188.73L239.83 189.08L240.21 189.42L240.59 189.77L240.97 190.11L241.35 190.45L241.73 190.79L242.11 191.12L242.49 191.46L242.87 191.79L243.25 192.12L243.63 192.44L244.01 192.77L244.39 193.09L244.77 193.41L245.15 193.72L245.53 194.04L245.91 194.35L246.29 194.66L246.67 194.97L247.05 195.27L247.43 195.58L247.81 195.88L248.19 196.18L248.57 196.48L248.95 196.77L249.33 197.06L249.71 197.36L250.09 197.64L250.47 197.93L250.85 198.22L251.23 198.50L251.61 198.78L251.99 199.06L252.37 199.34L252.75 199.61L253.13 199.88L253.51 200.16L253.89 200.42L254.27 200.69L254.65 200.96L255.03 201.22L255.41 201.48L255.79 201.74L256.17 202.00L256.55 202.26L256.93 202.51L257.31 202.76L257.69 203.01L258.07 203.26L258.45 203.51L258.83 203.76L259.21 204.00L259.59 204.24L259.96 204.48L260.34 204.72L260.72 204.96L261.10 205.19L261.48 205.43L261.86 205.66L262.24 205.89L262.62 206.12L263.00 206.35L263.38 206.57L263.76 206.80L264.14 207.02L264.52 207.24L264.90 207.46L265.28 207.68L265.66 207.89L266.04 208.11L266.42 208.32L266.80 208.53L267.18 208.74L267.56 208.95L267.94 209.16L268.32 209.37L268.70 209.57L269.08 209.77L269.46 209.97L269.84 210.17L270.22 210.37L270.60 210.57L270.98 210.77L271.36 210.96L271.74 211.16L272.12 211.35L272.50 211.54L272.88 211.73L273.26 211.92L273.64 212.10L274.02 212.29L274.40 212.47L274.78 212.66L275.16 212.84L275.54 213.02L275.92 213.20L276.30 213.37L276.68 213.55L277.06 213.73L277.44 213.90L277.82 214.07L278.20 214.25L278.58 214.42L278.96 214.59L279.34 214.75L279.72 214.92L280.10 215.09L280.48 215.25L280.85 215.42L281.23 215.58L281.61 215.74L281.99 215.90L282.37 216.06L282.75 216.22L283.13 216.38L283.51 216.53L283.89 216.69L284.27 216.84L284.65 216.99L285.03 217.15L285.41 217.30L285.79 217.45L286.17 217.60L286.55 217.74L286.93 217.89L287.31 218.04L287.69 218.18L288.07 218.33L288.45 218.47L288.83 218.61L289.21 218.75L289.59 218.89L289.97 219.03L290.35 219.17L290.73 219.31L291.11 219.44L291.49 219.58L291.87 219.71L292.25 219.85L292.63 219.98L293.01 220.11L293.39 220.24L293.77 220.37L294.15 220.50L294.53 220.63L294.91 220.76L295.29 220.88L295.67 221.01L296.05 221.13L296.43 221.26L296.81 221.38L297.19 221.50L297.57 221.62L297.95 221.75L298.33 221.87L298.71 221.98L299.09 222.10L299.47 222.22L299.85 222.34L300.23 222.45L300.61 222.57L300.99 222.68L301.37 222.80L301.74 222.91L302.12 223.02L302.50 223.13L302.88 223.25L303.26 223.36L303.64 223.46L304.02 223.57L304.40 223.68L304.78 223.79L305.16 223.90L305.54 224.00L305.92 224.11L306.30 224.21L306.68 224.31L307.06 224.42L307.44 224.52L307.82 224.62L308.20 224.72L308.58 224.82L308.96 224.92L309.34 225.02L309.72 225.12L310.10 225.22L310.48 225.32L310.86 225.41L311.24 225.51L311.62 225.60L312.00 225.70" fill="none" stroke="#1414d6" stroke-width="1.9" stroke-linejoin="round"/>
<rect x="201" y="22.35" width="19" height="1.7" fill="#1414d6"/>
<rect x="201" y="35.75" width="19" height="1.7" fill="#ec1a5c"/>
<rect x="201" y="49.05" width="19" height="1.7" fill="#1b8a22"/>
<rect x="201" y="62.55" width="19" height="1.7" fill="#c99d17"/>
<rect x="44" y="293" width="2" height="245" fill="#9a9a9a"/>
<rect x="44" y="293" width="280" height="2" fill="#9a9a9a"/>
<rect x="322.7" y="293" width="1.3" height="245" fill="#505050"/>
<rect x="44" y="536.5" width="280" height="1.6" fill="#333333"/>
<rect x="90.73" y="295" width="1.2" height="2.5" fill="#222"/>
<rect x="90.73" y="533.5" width="1.2" height="3" fill="#222"/>
<rect x="137.06" y="295" width="1.2" height="2.5" fill="#222"/>
<rect x="137.06" y="533.5" width="1.2" height="3" fill="#222"/>
<rect x="183.39" y="295" width="1.2" height="2.5" fill="#222"/>
<rect x="183.39" y="533.5" width="1.2" height="3" fill="#222"/>
<rect x="229.72" y="295" width="1.2" height="2.5" fill="#222"/>
<rect x="229.72" y="533.5" width="1.2" height="3" fill="#222"/>
<rect x="276.05" y="295" width="1.2" height="2.5" fill="#222"/>
<rect x="276.05" y="533.5" width="1.2" height="3" fill="#222"/>
<rect x="46" y="292.90" width="3.0" height="1.2" fill="#222"/>
<rect x="319.50" y="292.90" width="3.0" height="1.2" fill="#222"/>
<rect x="46" y="303.07" width="1.8" height="1.2" fill="#222"/>
<rect x="320.70" y="303.07" width="1.8" height="1.2" fill="#222"/>
<rect x="46" y="313.24" width="1.8" height="1.2" fill="#222"/>
<rect x="320.70" y="313.24" width="1.8" height="1.2" fill="#222"/>
<rect x="46" y="323.41" width="1.8" height="1.2" fill="#222"/>
<rect x="320.70" y="323.41" width="1.8" height="1.2" fill="#222"/>
<rect x="46" y="333.58" width="3.0" height="1.2" fill="#222"/>
<rect x="319.50" y="333.58" width="3.0" height="1.2" fill="#222"/>
<rect x="46" y="343.75" width="1.8" height="1.2" fill="#222"/>
<rect x="320.70" y="343.75" width="1.8" height="1.2" fill="#222"/>
<rect x="46" y="353.92" width="1.8" height="1.2" fill="#222"/>
<rect x="320.70" y="353.92" width="1.8" height="1.2" fill="#222"/>
<rect x="46" y="364.09" width="1.8" height="1.2" fill="#222"/>
<rect x="320.70" y="364.09" width="1.8" height="1.2" fill="#222"/>
<rect x="46" y="374.26" width="3.0" height="1.2" fill="#222"/>
<rect x="319.50" y="374.26" width="3.0" height="1.2" fill="#222"/>
<rect x="46" y="384.43" width="1.8" height="1.2" fill="#222"/>
<rect x="320.70" y="384.43" width="1.8" height="1.2" fill="#222"/>
<rect x="46" y="394.60" width="1.8" height="1.2" fill="#222"/>
<rect x="320.70" y="394.60" width="1.8" height="1.2" fill="#222"/>
<rect x="46" y="404.77" width="1.8" height="1.2" fill="#222"/>
<rect x="320.70" y="404.77" width="1.8" height="1.2" fill="#222"/>
<rect x="46" y="414.94" width="3.0" height="1.2" fill="#222"/>
<rect x="319.50" y="414.94" width="3.0" height="1.2" fill="#222"/>
<rect x="46" y="425.11" width="1.8" height="1.2" fill="#222"/>
<rect x="320.70" y="425.11" width="1.8" height="1.2" fill="#222"/>
<rect x="46" y="435.28" width="1.8" height="1.2" fill="#222"/>
<rect x="320.70" y="435.28" width="1.8" height="1.2" fill="#222"/>
<rect x="46" y="445.45" width="1.8" height="1.2" fill="#222"/>
<rect x="320.70" y="445.45" width="1.8" height="1.2" fill="#222"/>
<rect x="46" y="455.62" width="3.0" height="1.2" fill="#222"/>
<rect x="319.50" y="455.62" width="3.0" height="1.2" fill="#222"/>
<rect x="46" y="465.79" width="1.8" height="1.2" fill="#222"/>
<rect x="320.70" y="465.79" width="1.8" height="1.2" fill="#222"/>
<rect x="46" y="475.96" width="1.8" height="1.2" fill="#222"/>
<rect x="320.70" y="475.96" width="1.8" height="1.2" fill="#222"/>
<rect x="46" y="486.13" width="1.8" height="1.2" fill="#222"/>
<rect x="320.70" y="486.13" width="1.8" height="1.2" fill="#222"/>
<rect x="46" y="496.30" width="3.0" height="1.2" fill="#222"/>
<rect x="319.50" y="496.30" width="3.0" height="1.2" fill="#222"/>
<rect x="46" y="506.47" width="1.8" height="1.2" fill="#222"/>
<rect x="320.70" y="506.47" width="1.8" height="1.2" fill="#222"/>
<rect x="46" y="516.64" width="1.8" height="1.2" fill="#222"/>
<rect x="320.70" y="516.64" width="1.8" height="1.2" fill="#222"/>
<rect x="46" y="526.81" width="1.8" height="1.2" fill="#222"/>
<rect x="320.70" y="526.81" width="1.8" height="1.2" fill="#222"/>
<path d="M82.53 536.69L82.93 536.69L83.33 536.68L83.74 536.68L84.14 536.67L84.54 536.66L84.94 536.65L85.34 536.63L85.74 536.61L86.14 536.59L86.55 536.56L86.95 536.52L87.35 536.48L87.75 536.43L88.15 536.37L88.55 536.30L88.95 536.21L89.36 536.11L89.76 536.00L90.16 535.87L90.56 535.73L90.96 535.56L91.36 535.37L91.77 535.16L92.17 534.92L92.57 534.66L92.97 534.36L93.37 534.04L93.77 533.68L94.17 533.29L94.58 532.86L94.98 532.39L95.38 531.89L95.78 531.34L96.18 530.75L96.58 530.11L96.98 529.43L97.39 528.71L97.79 527.93L98.19 527.11L98.59 526.23L98.99 525.31L99.39 524.33L99.79 523.30L100.20 522.22L100.60 521.09L101.00 519.90L101.40 518.66L101.80 517.37L102.20 516.03L102.60 514.64L103.01 513.19L103.41 511.69L103.81 510.15L104.21 508.55L104.61 506.91L105.01 505.22L105.41 503.48L105.82 501.70L106.22 499.88L106.62 498.01L107.02 496.10L107.42 494.16L107.82 492.18L108.23 490.16L108.63 488.11L109.03 486.03L109.43 483.91L109.83 481.77L110.23 479.60L110.63 477.41L111.04 475.19L111.44 472.96L111.84 470.70L112.24 468.43L112.64 466.14L113.04 463.84L113.44 461.52L113.85 459.20L114.25 456.87L114.65 454.53L115.05 452.19L115.45 449.84L115.85 447.50L116.25 445.15L116.66 442.81L117.06 440.47L117.46 438.14L117.86 435.82L118.26 433.50L118.66 431.19L119.06 428.90L119.47 426.61L119.87 424.34L120.27 422.09L120.67 419.85L121.07 417.64L121.47 415.44L121.88 413.25L122.28 411.10L122.68 408.96L123.08 406.84L123.48 404.75L123.88 402.68L124.28 400.64L124.69 398.63L125.09 396.64L125.49 394.68L125.89 392.74L126.29 390.84L126.69 388.96L127.09 387.12L127.50 385.30L127.90 383.52L128.30 381.76L128.70 380.04L129.10 378.35L129.50 376.69L129.90 375.06L130.31 373.47L130.71 371.90L131.11 370.37L131.51 368.88L131.91 367.41L132.31 365.98L132.71 364.58L133.12 363.21L133.52 361.88L133.92 360.58L134.32 359.31L134.72 358.08L135.12 356.88L135.52 355.71L135.93 354.57L136.33 353.47L136.73 352.39L137.13 351.35L137.53 350.34L137.93 349.37L138.34 348.42L138.74 347.51L139.14 346.62L139.54 345.77L139.94 344.95L140.34 344.15L140.74 343.39L141.15 342.65L141.55 341.95L141.95 341.27L142.35 340.63L142.75 340.01L143.15 339.41L143.55 338.85L143.96 338.31L144.36 337.80L144.76 337.32L145.16 336.86L145.56 336.43L145.96 336.02L146.36 335.64L146.77 335.28L147.17 334.95L147.57 334.64L147.97 334.35L148.37 334.09L148.77 333.85L149.17 333.63L149.58 333.44L149.98 333.26L150.38 333.11L150.78 332.98L151.18 332.87L151.58 332.78L151.99 332.71L152.39 332.66L152.79 332.62L153.19 332.61L153.59 332.62L153.99 332.64L154.39 332.68L154.80 332.74L155.20 332.81L155.60 332.90L156.00 333.01L156.40 333.13L156.80 333.27L157.20 333.43L157.61 333.60L158.01 333.78L158.41 333.98L158.81 334.19L159.21 334.42L159.61 334.66L160.01 334.91L160.42 335.18L160.82 335.46L161.22 335.75L161.62 336.05L162.02 336.36L162.42 336.69L162.82 337.03L163.23 337.37L163.63 337.73L164.03 338.10L164.43 338.48L164.83 338.87L165.23 339.26L165.63 339.67L166.04 340.09L166.44 340.51L166.84 340.94L167.24 341.39L167.64 341.84L168.04 342.29L168.45 342.76L168.85 343.23L169.25 343.71L169.65 344.20L170.05 344.69L170.45 345.19L170.85 345.70L171.26 346.21L171.66 346.73L172.06 347.25L172.46 347.78L172.86 348.31L173.26 348.85L173.66 349.40L174.07 349.95L174.47 350.50L174.87 351.06L175.27 351.63L175.67 352.20L176.07 352.77L176.47 353.34L176.88 353.92L177.28 354.51L177.68 355.09L178.08 355.68L178.48 356.27L178.88 356.87L179.28 357.47L179.69 358.07L180.09 358.67L180.49 359.28L180.89 359.89L181.29 360.50L181.69 361.11L182.10 361.73L182.50 362.35L182.90 362.97L183.30 363.59L183.70 364.21L184.10 364.83L184.50 365.46L184.91 366.08L185.31 366.71L185.71 367.34L186.11 367.97L186.51 368.60L186.91 369.23L187.31 369.86L187.72 370.49L188.12 371.13L188.52 371.76L188.92 372.39L189.32 373.03L189.72 373.66L190.12 374.30L190.53 374.93L190.93 375.57L191.33 376.20L191.73 376.84L192.13 377.47L192.53 378.10L192.93 378.74L193.34 379.37L193.74 380.00L194.14 380.63L194.54 381.27L194.94 381.90L195.34 382.53L195.75 383.16L196.15 383.78L196.55 384.41L196.95 385.04L197.35 385.67L197.75 386.29L198.15 386.92L198.56 387.54L198.96 388.16L199.36 388.78L199.76 389.40L200.16 390.02L200.56 390.64L200.96 391.25L201.37 391.87L201.77 392.48L202.17 393.09L202.57 393.70L202.97 394.31L203.37 394.92L203.77 395.52L204.18 396.13L204.58 396.73L204.98 397.33L205.38 397.93L205.78 398.53L206.18 399.13L206.58 399.72L206.99 400.31L207.39 400.91L207.79 401.49L208.19 402.08L208.59 402.67L208.99 403.25L209.39 403.83L209.80 404.41L210.20 404.99L210.60 405.57L211.00 406.14L211.40 406.72L211.80 407.29L212.21 407.86L212.61 408.42L213.01 408.99L213.41 409.55L213.81 410.11L214.21 410.67L214.61 411.23L215.02 411.78L215.42 412.34L215.82 412.89L216.22 413.43L216.62 413.98L217.02 414.53L217.42 415.07L217.83 415.61L218.23 416.15L218.63 416.68L219.03 417.22L219.43 417.75L219.83 418.28L220.23 418.81L220.64 419.33L221.04 419.86L221.44 420.38L221.84 420.90L222.24 421.41L222.64 421.93L223.04 422.44L223.45 422.95L223.85 423.46L224.25 423.97L224.65 424.47L225.05 424.97L225.45 425.47L225.86 425.97L226.26 426.47L226.66 426.96L227.06 427.45L227.46 427.94L227.86 428.43L228.26 428.91L228.67 429.40L229.07 429.88L229.47 430.36L229.87 430.83L230.27 431.31L230.67 431.78L231.07 432.25L231.48 432.72L231.88 433.18L232.28 433.65L232.68 434.11L233.08 434.57L233.48 435.03L233.88 435.48L234.29 435.94L234.69 436.39L235.09 436.84L235.49 437.28L235.89 437.73L236.29 438.17L236.69 438.61L237.10 439.05L237.50 439.49L237.90 439.92L238.30 440.35L238.70 440.78L239.10 441.21L239.50 441.64L239.91 442.06L240.31 442.49L240.71 442.91L241.11 443.32L241.51 443.74L241.91 444.16L242.32 444.57L242.72 444.98L243.12 445.39L243.52 445.79L243.92 446.20L244.32 446.60L244.72 447.00L245.13 447.40L245.53 447.80L245.93 448.19L246.33 448.58L246.73 448.97L247.13 449.36L247.53 449.75L247.94 450.14L248.34 450.52L248.74 450.90L249.14 451.28L249.54 451.66L249.94 452.03L250.34 452.41L250.75 452.78L251.15 453.15L251.55 453.52L251.95 453.89L252.35 454.25L252.75 454.61L253.15 454.98L253.56 455.34L253.96 455.69L254.36 456.05L254.76 456.40L255.16 456.76L255.56 457.11L255.97 457.46L256.37 457.80L256.77 458.15L257.17 458.49L257.57 458.83L257.97 459.17L258.37 459.51L258.78 459.85L259.18 460.19L259.58 460.52L259.98 460.85L260.38 461.18L260.78 461.51L261.18 461.84L261.59 462.16L261.99 462.49L262.39 462.81L262.79 463.13L263.19 463.45L263.59 463.77L263.99 464.08L264.40 464.39L264.80 464.71L265.20 465.02L265.60 465.33L266.00 465.64L266.40 465.94L266.80 466.25L267.21 466.55L267.61 466.85L268.01 467.15L268.41 467.45L268.81 467.75L269.21 468.04L269.61 468.34L270.02 468.63L270.42 468.92L270.82 469.21L271.22 469.50L271.62 469.79L272.02 470.07L272.43 470.36L272.83 470.64L273.23 470.92L273.63 471.20L274.03 471.48L274.43 471.75L274.83 472.03L275.24 472.30L275.64 472.58L276.04 472.85L276.44 473.12L276.84 473.39L277.24 473.65L277.64 473.92L278.05 474.18L278.45 474.45L278.85 474.71L279.25 474.97L279.65 475.23L280.05 475.49L280.45 475.75L280.86 476.00L281.26 476.25L281.66 476.51L282.06 476.76L282.46 477.01L282.86 477.26L283.26 477.51L283.67 477.75L284.07 478.00L284.47 478.24L284.87 478.49L285.27 478.73L285.67 478.97L286.08 479.21L286.48 479.45L286.88 479.68L287.28 479.92L287.68 480.15L288.08 480.39L288.48 480.62L288.89 480.85L289.29 481.08L289.69 481.31L290.09 481.54L290.49 481.76L290.89 481.99L291.29 482.21L291.70 482.44L292.10 482.66L292.50 482.88L292.90 483.10L293.30 483.32L293.70 483.53L294.10 483.75L294.51 483.97L294.91 484.18L295.31 484.39L295.71 484.61L296.11 484.82L296.51 485.03L296.91 485.24L297.32 485.45L297.72 485.65L298.12 485.86L298.52 486.06L298.92 486.27L299.32 486.47L299.72 486.67L300.13 486.87L300.53 487.07L300.93 487.27L301.33 487.47L301.73 487.67L302.13 487.86L302.54 488.06L302.94 488.25L303.34 488.45L303.74 488.64L304.14 488.83L304.54 489.02L304.94 489.21L305.35 489.40L305.75 489.59L306.15 489.77L306.55 489.96L306.95 490.15L307.35 490.33L307.75 490.51L308.16 490.69L308.56 490.88L308.96 491.06L309.36 491.24L309.76 491.41L310.16 491.59L310.56 491.77L310.97 491.95L311.37 492.12L311.77 492.30L312.17 492.47L312.57 492.64L312.97 492.81L313.37 492.99L313.78 493.16L314.18 493.32L314.58 493.49L314.98 493.66L315.38 493.83L315.78 493.99L316.19 494.16L316.59 494.32L316.99 494.49L317.39 494.65L317.79 494.81L318.19 494.97L318.59 495.14L319.00 495.30L319.40 495.45L319.80 495.61L320.20 495.77L320.60 495.93L321.00 496.08L321.40 496.24L321.81 496.39L322.21 496.55L322.61 496.70L323.01 496.85" fill="none" stroke="#111111" stroke-width="1.55" stroke-linejoin="round"/>
<path d="M82.53 536.63L82.93 536.61L83.33 536.59L83.74 536.56L84.14 536.52L84.54 536.48L84.94 536.42L85.34 536.36L85.74 536.28L86.14 536.19L86.55 536.09L86.95 535.97L87.35 535.83L87.75 535.67L88.15 535.49L88.55 535.28L88.95 535.05L89.36 534.78L89.76 534.49L90.16 534.16L90.56 533.80L90.96 533.40L91.36 532.96L91.77 532.48L92.17 531.96L92.57 531.39L92.97 530.77L93.37 530.10L93.77 529.38L94.17 528.61L94.58 527.79L94.98 526.91L95.38 525.97L95.78 524.98L96.18 523.93L96.58 522.82L96.98 521.65L97.39 520.42L97.79 519.14L98.19 517.79L98.59 516.38L98.99 514.92L99.39 513.39L99.79 511.81L100.20 510.17L100.60 508.47L101.00 506.72L101.40 504.91L101.80 503.05L102.20 501.14L102.60 499.18L103.01 497.17L103.41 495.12L103.81 493.02L104.21 490.88L104.61 488.69L105.01 486.47L105.41 484.21L105.82 481.92L106.22 479.60L106.62 477.24L107.02 474.86L107.42 472.45L107.82 470.02L108.23 467.57L108.63 465.10L109.03 462.62L109.43 460.12L109.83 457.60L110.23 455.08L110.63 452.55L111.04 450.02L111.44 447.48L111.84 444.95L112.24 442.41L112.64 439.88L113.04 437.35L113.44 434.83L113.85 432.32L114.25 429.82L114.65 427.34L115.05 424.86L115.45 422.41L115.85 419.97L116.25 417.55L116.66 415.15L117.06 412.78L117.46 410.43L117.86 408.10L118.26 405.80L118.66 403.53L119.06 401.28L119.47 399.07L119.87 396.88L120.27 394.73L120.67 392.61L121.07 390.52L121.47 388.46L121.88 386.44L122.28 384.46L122.68 382.51L123.08 380.60L123.48 378.73L123.88 376.89L124.28 375.09L124.69 373.33L125.09 371.60L125.49 369.92L125.89 368.28L126.29 366.67L126.69 365.10L127.09 363.58L127.50 362.09L127.90 360.64L128.30 359.23L128.70 357.87L129.10 356.54L129.50 355.25L129.90 354.00L130.31 352.79L130.71 351.62L131.11 350.48L131.51 349.39L131.91 348.33L132.31 347.31L132.71 346.33L133.12 345.39L133.52 344.49L133.92 343.62L134.32 342.79L134.72 341.99L135.12 341.23L135.52 340.51L135.93 339.82L136.33 339.16L136.73 338.54L137.13 337.95L137.53 337.40L137.93 336.88L138.34 336.39L138.74 335.93L139.14 335.51L139.54 335.12L139.94 334.75L140.34 334.42L140.74 334.12L141.15 333.84L141.55 333.60L141.95 333.38L142.35 333.19L142.75 333.03L143.15 332.89L143.55 332.78L143.96 332.70L144.36 332.64L144.76 332.60L145.16 332.59L145.56 332.61L145.96 332.64L146.36 332.70L146.77 332.78L147.17 332.89L147.57 333.01L147.97 333.16L148.37 333.33L148.77 333.51L149.17 333.72L149.58 333.95L149.98 334.19L150.38 334.45L150.78 334.73L151.18 335.03L151.58 335.34L151.99 335.67L152.39 336.02L152.79 336.38L153.19 336.76L153.59 337.16L153.99 337.56L154.39 337.98L154.80 338.42L155.20 338.87L155.60 339.33L156.00 339.80L156.40 340.29L156.80 340.79L157.20 341.30L157.61 341.82L158.01 342.35L158.41 342.89L158.81 343.45L159.21 344.01L159.61 344.58L160.01 345.16L160.42 345.75L160.82 346.35L161.22 346.96L161.62 347.58L162.02 348.20L162.42 348.83L162.82 349.47L163.23 350.11L163.63 350.76L164.03 351.42L164.43 352.09L164.83 352.76L165.23 353.43L165.63 354.11L166.04 354.80L166.44 355.49L166.84 356.19L167.24 356.89L167.64 357.60L168.04 358.31L168.45 359.02L168.85 359.74L169.25 360.46L169.65 361.18L170.05 361.91L170.45 362.64L170.85 363.37L171.26 364.11L171.66 364.85L172.06 365.59L172.46 366.33L172.86 367.07L173.26 367.82L173.66 368.57L174.07 369.32L174.47 370.07L174.87 370.82L175.27 371.57L175.67 372.33L176.07 373.08L176.47 373.84L176.88 374.60L177.28 375.35L177.68 376.11L178.08 376.87L178.48 377.62L178.88 378.38L179.28 379.14L179.69 379.90L180.09 380.65L180.49 381.41L180.89 382.16L181.29 382.92L181.69 383.67L182.10 384.43L182.50 385.18L182.90 385.93L183.30 386.68L183.70 387.43L184.10 388.18L184.50 388.93L184.91 389.68L185.31 390.42L185.71 391.16L186.11 391.90L186.51 392.64L186.91 393.38L187.31 394.12L187.72 394.85L188.12 395.59L188.52 396.32L188.92 397.05L189.32 397.77L189.72 398.50L190.12 399.22L190.53 399.94L190.93 400.66L191.33 401.38L191.73 402.09L192.13 402.80L192.53 403.51L192.93 404.22L193.34 404.92L193.74 405.63L194.14 406.33L194.54 407.02L194.94 407.72L195.34 408.41L195.75 409.10L196.15 409.79L196.55 410.47L196.95 411.15L197.35 411.83L197.75 412.51L198.15 413.18L198.56 413.85L198.96 414.52L199.36 415.19L199.76 415.85L200.16 416.51L200.56 417.16L200.96 417.82L201.37 418.47L201.77 419.12L202.17 419.76L202.57 420.40L202.97 421.04L203.37 421.68L203.77 422.31L204.18 422.94L204.58 423.57L204.98 424.19L205.38 424.82L205.78 425.43L206.18 426.05L206.58 426.66L206.99 427.27L207.39 427.88L207.79 428.48L208.19 429.08L208.59 429.68L208.99 430.27L209.39 430.87L209.80 431.45L210.20 432.04L210.60 432.62L211.00 433.20L211.40 433.78L211.80 434.35L212.21 434.92L212.61 435.49L213.01 436.05L213.41 436.62L213.81 437.17L214.21 437.73L214.61 438.28L215.02 438.83L215.42 439.38L215.82 439.92L216.22 440.46L216.62 441.00L217.02 441.54L217.42 442.07L217.83 442.60L218.23 443.12L218.63 443.65L219.03 444.17L219.43 444.68L219.83 445.20L220.23 445.71L220.64 446.22L221.04 446.72L221.44 447.23L221.84 447.73L222.24 448.22L222.64 448.72L223.04 449.21L223.45 449.70L223.85 450.18L224.25 450.67L224.65 451.15L225.05 451.63L225.45 452.10L225.86 452.57L226.26 453.04L226.66 453.51L227.06 453.97L227.46 454.44L227.86 454.89L228.26 455.35L228.67 455.80L229.07 456.25L229.47 456.70L229.87 457.15L230.27 457.59L230.67 458.03L231.07 458.47L231.48 458.90L231.88 459.33L232.28 459.76L232.68 460.19L233.08 460.62L233.48 461.04L233.88 461.46L234.29 461.88L234.69 462.29L235.09 462.70L235.49 463.11L235.89 463.52L236.29 463.92L236.69 464.33L237.10 464.73L237.50 465.12L237.90 465.52L238.30 465.91L238.70 466.30L239.10 466.69L239.50 467.08L239.91 467.46L240.31 467.84L240.71 468.22L241.11 468.60L241.51 468.97L241.91 469.34L242.32 469.71L242.72 470.08L243.12 470.45L243.52 470.81L243.92 471.17L244.32 471.53L244.72 471.89L245.13 472.24L245.53 472.59L245.93 472.94L246.33 473.29L246.73 473.64L247.13 473.98L247.53 474.32L247.94 474.66L248.34 475.00L248.74 475.33L249.14 475.67L249.54 476.00L249.94 476.33L250.34 476.65L250.75 476.98L251.15 477.30L251.55 477.62L251.95 477.94L252.35 478.26L252.75 478.58L253.15 478.89L253.56 479.20L253.96 479.51L254.36 479.82L254.76 480.13L255.16 480.43L255.56 480.73L255.97 481.03L256.37 481.33L256.77 481.63L257.17 481.92L257.57 482.22L257.97 482.51L258.37 482.80L258.78 483.08L259.18 483.37L259.58 483.65L259.98 483.94L260.38 484.22L260.78 484.50L261.18 484.77L261.59 485.05L261.99 485.32L262.39 485.60L262.79 485.87L263.19 486.14L263.59 486.40L263.99 486.67L264.40 486.93L264.80 487.20L265.20 487.46L265.60 487.72L266.00 487.97L266.40 488.23L266.80 488.49L267.21 488.74L267.61 488.99L268.01 489.24L268.41 489.49L268.81 489.74L269.21 489.98L269.61 490.22L270.02 490.47L270.42 490.71L270.82 490.95L271.22 491.19L271.62 491.42L272.02 491.66L272.43 491.89L272.83 492.12L273.23 492.36L273.63 492.58L274.03 492.81L274.43 493.04L274.83 493.27L275.24 493.49L275.64 493.71L276.04 493.93L276.44 494.15L276.84 494.37L277.24 494.59L277.64 494.81L278.05 495.02L278.45 495.23L278.85 495.45L279.25 495.66L279.65 495.87L280.05 496.08L280.45 496.28L280.86 496.49L281.26 496.69L281.66 496.90L282.06 497.10L282.46 497.30L282.86 497.50L283.26 497.70L283.67 497.90L284.07 498.09L284.47 498.29L284.87 498.48L285.27 498.68L285.67 498.87L286.08 499.06L286.48 499.25L286.88 499.43L287.28 499.62L287.68 499.81L288.08 499.99L288.48 500.18L288.89 500.36L289.29 500.54L289.69 500.72L290.09 500.90L290.49 501.08L290.89 501.26L291.29 501.43L291.70 501.61L292.10 501.78L292.50 501.96L292.90 502.13L293.30 502.30L293.70 502.47L294.10 502.64L294.51 502.81L294.91 502.97L295.31 503.14L295.71 503.31L296.11 503.47L296.51 503.63L296.91 503.80L297.32 503.96L297.72 504.12L298.12 504.28L298.52 504.44L298.92 504.59L299.32 504.75L299.72 504.91L300.13 505.06L300.53 505.22L300.93 505.37L301.33 505.52L301.73 505.67L302.13 505.82L302.54 505.97L302.94 506.12L303.34 506.27L303.74 506.42L304.14 506.56L304.54 506.71L304.94 506.85L305.35 507.00L305.75 507.14L306.15 507.28L306.55 507.42L306.95 507.56L307.35 507.70L307.75 507.84L308.16 507.98L308.56 508.11L308.96 508.25L309.36 508.39L309.76 508.52L310.16 508.66L310.56 508.79L310.97 508.92L311.37 509.05L311.77 509.18L312.17 509.31L312.57 509.44L312.97 509.57L313.37 509.70L313.78 509.83L314.18 509.95L314.58 510.08L314.98 510.21L315.38 510.33L315.78 510.45L316.19 510.58L316.59 510.70L316.99 510.82L317.39 510.94L317.79 511.06L318.19 511.18L318.59 511.30L319.00 511.42L319.40 511.54L319.80 511.65L320.20 511.77L320.60 511.89L321.00 512.00L321.40 512.12L321.81 512.23L322.21 512.34L322.61 512.45L323.01 512.57" fill="none" stroke="#ee1149" stroke-width="1.55" stroke-linejoin="round"/>
<path d="M82.53 535.98L82.93 535.82L83.33 535.64L83.74 535.43L84.14 535.18L84.54 534.90L84.94 534.58L85.34 534.22L85.74 533.82L86.14 533.36L86.55 532.85L86.95 532.29L87.35 531.67L87.75 530.98L88.15 530.24L88.55 529.42L88.95 528.53L89.36 527.57L89.76 526.54L90.16 525.43L90.56 524.24L90.96 522.97L91.36 521.61L91.77 520.18L92.17 518.66L92.57 517.06L92.97 515.38L93.37 513.61L93.77 511.76L94.17 509.82L94.58 507.81L94.98 505.72L95.38 503.55L95.78 501.30L96.18 498.98L96.58 496.59L96.98 494.13L97.39 491.61L97.79 489.02L98.19 486.37L98.59 483.66L98.99 480.91L99.39 478.10L99.79 475.25L100.20 472.35L100.60 469.42L101.00 466.45L101.40 463.45L101.80 460.43L102.20 457.38L102.60 454.32L103.01 451.24L103.41 448.14L103.81 445.05L104.21 441.95L104.61 438.84L105.01 435.75L105.41 432.66L105.82 429.58L106.22 426.52L106.62 423.48L107.02 420.46L107.42 417.46L107.82 414.49L108.23 411.56L108.63 408.65L109.03 405.78L109.43 402.95L109.83 400.16L110.23 397.42L110.63 394.72L111.04 392.06L111.44 389.46L111.84 386.91L112.24 384.41L112.64 381.96L113.04 379.58L113.44 377.24L113.85 374.97L114.25 372.76L114.65 370.60L115.05 368.51L115.45 366.48L115.85 364.51L116.25 362.60L116.66 360.76L117.06 358.98L117.46 357.27L117.86 355.62L118.26 354.04L118.66 352.52L119.06 351.06L119.47 349.67L119.87 348.34L120.27 347.07L120.67 345.87L121.07 344.73L121.47 343.65L121.88 342.64L122.28 341.68L122.68 340.79L123.08 339.96L123.48 339.18L123.88 338.47L124.28 337.81L124.69 337.21L125.09 336.67L125.49 336.18L125.89 335.74L126.29 335.36L126.69 335.03L127.09 334.76L127.50 334.53L127.90 334.35L128.30 334.22L128.70 334.14L129.10 334.11L129.50 334.12L129.90 334.18L130.31 334.28L130.71 334.42L131.11 334.60L131.51 334.83L131.91 335.09L132.31 335.40L132.71 335.73L133.12 336.11L133.52 336.52L133.92 336.97L134.32 337.45L134.72 337.96L135.12 338.50L135.52 339.08L135.93 339.68L136.33 340.31L136.73 340.97L137.13 341.65L137.53 342.37L137.93 343.10L138.34 343.86L138.74 344.64L139.14 345.45L139.54 346.28L139.94 347.12L140.34 347.99L140.74 348.88L141.15 349.78L141.55 350.70L141.95 351.64L142.35 352.59L142.75 353.56L143.15 354.55L143.55 355.54L143.96 356.56L144.36 357.58L144.76 358.61L145.16 359.66L145.56 360.71L145.96 361.78L146.36 362.85L146.77 363.94L147.17 365.03L147.57 366.13L147.97 367.24L148.37 368.35L148.77 369.47L149.17 370.59L149.58 371.72L149.98 372.85L150.38 373.99L150.78 375.13L151.18 376.28L151.58 377.43L151.99 378.58L152.39 379.73L152.79 380.88L153.19 382.04L153.59 383.19L153.99 384.35L154.39 385.51L154.80 386.66L155.20 387.82L155.60 388.97L156.00 390.13L156.40 391.28L156.80 392.43L157.20 393.58L157.61 394.73L158.01 395.87L158.41 397.01L158.81 398.15L159.21 399.29L159.61 400.42L160.01 401.55L160.42 402.68L160.82 403.80L161.22 404.92L161.62 406.03L162.02 407.14L162.42 408.25L162.82 409.35L163.23 410.44L163.63 411.53L164.03 412.62L164.43 413.70L164.83 414.77L165.23 415.84L165.63 416.90L166.04 417.96L166.44 419.01L166.84 420.06L167.24 421.10L167.64 422.13L168.04 423.16L168.45 424.18L168.85 425.20L169.25 426.21L169.65 427.21L170.05 428.21L170.45 429.20L170.85 430.18L171.26 431.16L171.66 432.13L172.06 433.09L172.46 434.04L172.86 434.99L173.26 435.94L173.66 436.87L174.07 437.80L174.47 438.72L174.87 439.64L175.27 440.55L175.67 441.45L176.07 442.34L176.47 443.23L176.88 444.11L177.28 444.99L177.68 445.85L178.08 446.71L178.48 447.57L178.88 448.41L179.28 449.25L179.69 450.09L180.09 450.91L180.49 451.73L180.89 452.54L181.29 453.35L181.69 454.15L182.10 454.94L182.50 455.72L182.90 456.50L183.30 457.27L183.70 458.04L184.10 458.79L184.50 459.55L184.91 460.29L185.31 461.03L185.71 461.76L186.11 462.48L186.51 463.20L186.91 463.91L187.31 464.62L187.72 465.32L188.12 466.01L188.52 466.70L188.92 467.38L189.32 468.05L189.72 468.72L190.12 469.38L190.53 470.04L190.93 470.69L191.33 471.33L191.73 471.97L192.13 472.60L192.53 473.22L192.93 473.84L193.34 474.45L193.74 475.06L194.14 475.66L194.54 476.26L194.94 476.85L195.34 477.43L195.75 478.01L196.15 478.59L196.55 479.15L196.95 479.72L197.35 480.27L197.75 480.83L198.15 481.37L198.56 481.91L198.96 482.45L199.36 482.98L199.76 483.50L200.16 484.02L200.56 484.54L200.96 485.05L201.37 485.55L201.77 486.05L202.17 486.55L202.57 487.04L202.97 487.52L203.37 488.00L203.77 488.48L204.18 488.95L204.58 489.41L204.98 489.88L205.38 490.33L205.78 490.78L206.18 491.23L206.58 491.67L206.99 492.11L207.39 492.55L207.79 492.98L208.19 493.40L208.59 493.82L208.99 494.24L209.39 494.65L209.80 495.06L210.20 495.47L210.60 495.87L211.00 496.27L211.40 496.66L211.80 497.05L212.21 497.43L212.61 497.81L213.01 498.19L213.41 498.56L213.81 498.93L214.21 499.30L214.61 499.66L215.02 500.02L215.42 500.37L215.82 500.72L216.22 501.07L216.62 501.41L217.02 501.75L217.42 502.09L217.83 502.42L218.23 502.75L218.63 503.08L219.03 503.40L219.43 503.72L219.83 504.04L220.23 504.35L220.64 504.66L221.04 504.97L221.44 505.27L221.84 505.57L222.24 505.87L222.64 506.17L223.04 506.46L223.45 506.75L223.85 507.03L224.25 507.32L224.65 507.60L225.05 507.87L225.45 508.15L225.86 508.42L226.26 508.69L226.66 508.96L227.06 509.22L227.46 509.48L227.86 509.74L228.26 509.99L228.67 510.25L229.07 510.50L229.47 510.74L229.87 510.99L230.27 511.23L230.67 511.47L231.07 511.71L231.48 511.94L231.88 512.18L232.28 512.41L232.68 512.64L233.08 512.86L233.48 513.09L233.88 513.31L234.29 513.53L234.69 513.74L235.09 513.96L235.49 514.17L235.89 514.38L236.29 514.59L236.69 514.79L237.10 515.00L237.50 515.20L237.90 515.40L238.30 515.60L238.70 515.79L239.10 515.99L239.50 516.18L239.91 516.37L240.31 516.56L240.71 516.74L241.11 516.93L241.51 517.11L241.91 517.29L242.32 517.47L242.72 517.65L243.12 517.82L243.52 518.00L243.92 518.17L244.32 518.34L244.72 518.51L245.13 518.67L245.53 518.84L245.93 519.00L246.33 519.16L246.73 519.32L247.13 519.48L247.53 519.64L247.94 519.79L248.34 519.95L248.74 520.10L249.14 520.25L249.54 520.40L249.94 520.55L250.34 520.69L250.75 520.84L251.15 520.98L251.55 521.12L251.95 521.26L252.35 521.40L252.75 521.54L253.15 521.68L253.56 521.81L253.96 521.95L254.36 522.08L254.76 522.21L255.16 522.34L255.56 522.47L255.97 522.59L256.37 522.72L256.77 522.84L257.17 522.97L257.57 523.09L257.97 523.21L258.37 523.33L258.78 523.45L259.18 523.57L259.58 523.68L259.98 523.80L260.38 523.91L260.78 524.03L261.18 524.14L261.59 524.25L261.99 524.36L262.39 524.47L262.79 524.57L263.19 524.68L263.59 524.79L263.99 524.89L264.40 524.99L264.80 525.10L265.20 525.20L265.60 525.30L266.00 525.40L266.40 525.50L266.80 525.59L267.21 525.69L267.61 525.79L268.01 525.88L268.41 525.97L268.81 526.07L269.21 526.16L269.61 526.25L270.02 526.34L270.42 526.43L270.82 526.52L271.22 526.61L271.62 526.69L272.02 526.78L272.43 526.87L272.83 526.95L273.23 527.03L273.63 527.12L274.03 527.20L274.43 527.28L274.83 527.36L275.24 527.44L275.64 527.52L276.04 527.60L276.44 527.67L276.84 527.75L277.24 527.83L277.64 527.90L278.05 527.98L278.45 528.05L278.85 528.12L279.25 528.20L279.65 528.27L280.05 528.34L280.45 528.41L280.86 528.48L281.26 528.55L281.66 528.62L282.06 528.68L282.46 528.75L282.86 528.82L283.26 528.88L283.67 528.95L284.07 529.01L284.47 529.08L284.87 529.14L285.27 529.20L285.67 529.27L286.08 529.33L286.48 529.39L286.88 529.45L287.28 529.51L287.68 529.57L288.08 529.63L288.48 529.69L288.89 529.74L289.29 529.80L289.69 529.86L290.09 529.91L290.49 529.97L290.89 530.03L291.29 530.08L291.70 530.13L292.10 530.19L292.50 530.24L292.90 530.29L293.30 530.35L293.70 530.40L294.10 530.45L294.51 530.50L294.91 530.55L295.31 530.60L295.71 530.65L296.11 530.70L296.51 530.75L296.91 530.80L297.32 530.84L297.72 530.89L298.12 530.94L298.52 530.98L298.92 531.03L299.32 531.08L299.72 531.12L300.13 531.17L300.53 531.21L300.93 531.25L301.33 531.30L301.73 531.34L302.13 531.38L302.54 531.43L302.94 531.47L303.34 531.51L303.74 531.55L304.14 531.59L304.54 531.63L304.94 531.67L305.35 531.71L305.75 531.75L306.15 531.79L306.55 531.83L306.95 531.87L307.35 531.91L307.75 531.94L308.16 531.98L308.56 532.02L308.96 532.05L309.36 532.09L309.76 532.13L310.16 532.16L310.56 532.20L310.97 532.23L311.37 532.27L311.77 532.30L312.17 532.34L312.57 532.37L312.97 532.40L313.37 532.44L313.78 532.47L314.18 532.50L314.58 532.54L314.98 532.57L315.38 532.60L315.78 532.63L316.19 532.66L316.59 532.69L316.99 532.72L317.39 532.76L317.79 532.79L318.19 532.82L318.59 532.85L319.00 532.87L319.40 532.90L319.80 532.93L320.20 532.96L320.60 532.99L321.00 533.02L321.40 533.05L321.81 533.07L322.21 533.10L322.61 533.13L323.01 533.16" fill="none" stroke="#12821a" stroke-width="1.55" stroke-linejoin="round"/>
<path d="M82.53 536.50L82.93 536.45L83.33 536.39L83.74 536.32L84.14 536.24L84.54 536.14L84.94 536.03L85.34 535.90L85.74 535.75L86.14 535.58L86.55 535.39L86.95 535.17L87.35 534.92L87.75 534.64L88.15 534.33L88.55 533.99L88.95 533.60L89.36 533.18L89.76 532.72L90.16 532.21L90.56 531.65L90.96 531.05L91.36 530.40L91.77 529.69L92.17 528.94L92.57 528.12L92.97 527.25L93.37 526.32L93.77 525.33L94.17 524.28L94.58 523.17L94.98 521.99L95.38 520.76L95.78 519.46L96.18 518.09L96.58 516.66L96.98 515.17L97.39 513.62L97.79 512.00L98.19 510.32L98.59 508.58L98.99 506.78L99.39 504.92L99.79 503.00L100.20 501.03L100.60 499.00L101.00 496.91L101.40 494.78L101.80 492.60L102.20 490.37L102.60 488.09L103.01 485.77L103.41 483.42L103.81 481.02L104.21 478.59L104.61 476.12L105.01 473.62L105.41 471.09L105.82 468.54L106.22 465.97L106.62 463.37L107.02 460.75L107.42 458.12L107.82 455.48L108.23 452.83L108.63 450.16L109.03 447.50L109.43 444.82L109.83 442.15L110.23 439.48L110.63 436.82L111.04 434.16L111.44 431.51L111.84 428.87L112.24 426.24L112.64 423.62L113.04 421.03L113.44 418.45L113.85 415.90L114.25 413.36L114.65 410.85L115.05 408.37L115.45 405.91L115.85 403.48L116.25 401.08L116.66 398.72L117.06 396.38L117.46 394.09L117.86 391.82L118.26 389.59L118.66 387.40L119.06 385.25L119.47 383.14L119.87 381.07L120.27 379.03L120.67 377.04L121.07 375.09L121.47 373.19L121.88 371.33L122.28 369.51L122.68 367.73L123.08 366.00L123.48 364.31L123.88 362.67L124.28 361.07L124.69 359.52L125.09 358.01L125.49 356.55L125.89 355.13L126.29 353.76L126.69 352.43L127.09 351.15L127.50 349.92L127.90 348.72L128.30 347.58L128.70 346.47L129.10 345.41L129.50 344.40L129.90 343.42L130.31 342.49L130.71 341.60L131.11 340.76L131.51 339.95L131.91 339.19L132.31 338.47L132.71 337.79L133.12 337.15L133.52 336.54L133.92 335.98L134.32 335.46L134.72 334.97L135.12 334.52L135.52 334.11L135.93 333.73L136.33 333.39L136.73 333.08L137.13 332.81L137.53 332.57L137.93 332.36L138.34 332.19L138.74 332.05L139.14 331.94L139.54 331.86L139.94 331.81L140.34 331.80L140.74 331.81L141.15 331.84L141.55 331.91L141.95 332.01L142.35 332.13L142.75 332.27L143.15 332.45L143.55 332.64L143.96 332.86L144.36 333.11L144.76 333.38L145.16 333.67L145.56 333.98L145.96 334.32L146.36 334.67L146.77 335.05L147.17 335.44L147.57 335.86L147.97 336.29L148.37 336.74L148.77 337.21L149.17 337.70L149.58 338.21L149.98 338.73L150.38 339.26L150.78 339.81L151.18 340.38L151.58 340.96L151.99 341.56L152.39 342.16L152.79 342.79L153.19 343.42L153.59 344.07L153.99 344.72L154.39 345.39L154.80 346.07L155.20 346.76L155.60 347.47L156.00 348.18L156.40 348.90L156.80 349.63L157.20 350.36L157.61 351.11L158.01 351.87L158.41 352.63L158.81 353.40L159.21 354.17L159.61 354.96L160.01 355.75L160.42 356.54L160.82 357.34L161.22 358.15L161.62 358.96L162.02 359.78L162.42 360.60L162.82 361.43L163.23 362.26L163.63 363.09L164.03 363.93L164.43 364.77L164.83 365.62L165.23 366.46L165.63 367.31L166.04 368.16L166.44 369.02L166.84 369.88L167.24 370.73L167.64 371.59L168.04 372.46L168.45 373.32L168.85 374.18L169.25 375.05L169.65 375.91L170.05 376.78L170.45 377.64L170.85 378.51L171.26 379.38L171.66 380.24L172.06 381.11L172.46 381.98L172.86 382.84L173.26 383.71L173.66 384.57L174.07 385.43L174.47 386.30L174.87 387.16L175.27 388.02L175.67 388.88L176.07 389.73L176.47 390.59L176.88 391.44L177.28 392.29L177.68 393.14L178.08 393.99L178.48 394.84L178.88 395.68L179.28 396.52L179.69 397.36L180.09 398.20L180.49 399.03L180.89 399.86L181.29 400.69L181.69 401.52L182.10 402.34L182.50 403.16L182.90 403.98L183.30 404.80L183.70 405.61L184.10 406.42L184.50 407.22L184.91 408.02L185.31 408.82L185.71 409.62L186.11 410.41L186.51 411.20L186.91 411.99L187.31 412.77L187.72 413.55L188.12 414.33L188.52 415.10L188.92 415.87L189.32 416.63L189.72 417.39L190.12 418.15L190.53 418.91L190.93 419.66L191.33 420.40L191.73 421.15L192.13 421.89L192.53 422.62L192.93 423.35L193.34 424.08L193.74 424.81L194.14 425.53L194.54 426.24L194.94 426.96L195.34 427.67L195.75 428.37L196.15 429.07L196.55 429.77L196.95 430.46L197.35 431.15L197.75 431.84L198.15 432.52L198.56 433.20L198.96 433.87L199.36 434.54L199.76 435.21L200.16 435.87L200.56 436.53L200.96 437.18L201.37 437.83L201.77 438.48L202.17 439.12L202.57 439.76L202.97 440.40L203.37 441.03L203.77 441.66L204.18 442.28L204.58 442.90L204.98 443.52L205.38 444.13L205.78 444.74L206.18 445.34L206.58 445.94L206.99 446.54L207.39 447.13L207.79 447.72L208.19 448.31L208.59 448.89L208.99 449.47L209.39 450.04L209.80 450.61L210.20 451.18L210.60 451.74L211.00 452.30L211.40 452.86L211.80 453.41L212.21 453.96L212.61 454.50L213.01 455.05L213.41 455.58L213.81 456.12L214.21 456.65L214.61 457.18L215.02 457.70L215.42 458.22L215.82 458.74L216.22 459.25L216.62 459.76L217.02 460.27L217.42 460.77L217.83 461.27L218.23 461.77L218.63 462.26L219.03 462.75L219.43 463.23L219.83 463.72L220.23 464.20L220.64 464.67L221.04 465.14L221.44 465.61L221.84 466.08L222.24 466.54L222.64 467.00L223.04 467.46L223.45 467.91L223.85 468.37L224.25 468.81L224.65 469.26L225.05 469.70L225.45 470.14L225.86 470.57L226.26 471.00L226.66 471.43L227.06 471.86L227.46 472.28L227.86 472.70L228.26 473.12L228.67 473.53L229.07 473.95L229.47 474.35L229.87 474.76L230.27 475.16L230.67 475.56L231.07 475.96L231.48 476.35L231.88 476.75L232.28 477.13L232.68 477.52L233.08 477.90L233.48 478.28L233.88 478.66L234.29 479.04L234.69 479.41L235.09 479.78L235.49 480.15L235.89 480.51L236.29 480.88L236.69 481.23L237.10 481.59L237.50 481.95L237.90 482.30L238.30 482.65L238.70 483.00L239.10 483.34L239.50 483.68L239.91 484.02L240.31 484.36L240.71 484.69L241.11 485.03L241.51 485.36L241.91 485.68L242.32 486.01L242.72 486.33L243.12 486.65L243.52 486.97L243.92 487.29L244.32 487.60L244.72 487.92L245.13 488.23L245.53 488.53L245.93 488.84L246.33 489.14L246.73 489.44L247.13 489.74L247.53 490.04L247.94 490.33L248.34 490.63L248.74 490.92L249.14 491.20L249.54 491.49L249.94 491.77L250.34 492.06L250.75 492.34L251.15 492.62L251.55 492.89L251.95 493.17L252.35 493.44L252.75 493.71L253.15 493.98L253.56 494.25L253.96 494.51L254.36 494.77L254.76 495.03L255.16 495.29L255.56 495.55L255.97 495.81L256.37 496.06L256.77 496.31L257.17 496.56L257.57 496.81L257.97 497.06L258.37 497.30L258.78 497.55L259.18 497.79L259.58 498.03L259.98 498.26L260.38 498.50L260.78 498.74L261.18 498.97L261.59 499.20L261.99 499.43L262.39 499.66L262.79 499.89L263.19 500.11L263.59 500.33L263.99 500.56L264.40 500.78L264.80 500.99L265.20 501.21L265.60 501.43L266.00 501.64L266.40 501.86L266.80 502.07L267.21 502.28L267.61 502.48L268.01 502.69L268.41 502.90L268.81 503.10L269.21 503.30L269.61 503.50L270.02 503.70L270.42 503.90L270.82 504.10L271.22 504.30L271.62 504.49L272.02 504.68L272.43 504.87L272.83 505.06L273.23 505.25L273.63 505.44L274.03 505.63L274.43 505.81L274.83 506.00L275.24 506.18L275.64 506.36L276.04 506.54L276.44 506.72L276.84 506.90L277.24 507.07L277.64 507.25L278.05 507.42L278.45 507.59L278.85 507.77L279.25 507.94L279.65 508.10L280.05 508.27L280.45 508.44L280.86 508.61L281.26 508.77L281.66 508.93L282.06 509.10L282.46 509.26L282.86 509.42L283.26 509.58L283.67 509.73L284.07 509.89L284.47 510.05L284.87 510.20L285.27 510.35L285.67 510.51L286.08 510.66L286.48 510.81L286.88 510.96L287.28 511.11L287.68 511.26L288.08 511.40L288.48 511.55L288.89 511.69L289.29 511.84L289.69 511.98L290.09 512.12L290.49 512.26L290.89 512.40L291.29 512.54L291.70 512.68L292.10 512.81L292.50 512.95L292.90 513.09L293.30 513.22L293.70 513.35L294.10 513.49L294.51 513.62L294.91 513.75L295.31 513.88L295.71 514.01L296.11 514.13L296.51 514.26L296.91 514.39L297.32 514.51L297.72 514.64L298.12 514.76L298.52 514.89L298.92 515.01L299.32 515.13L299.72 515.25L300.13 515.37L300.53 515.49L300.93 515.61L301.33 515.72L301.73 515.84L302.13 515.96L302.54 516.07L302.94 516.19L303.34 516.30L303.74 516.41L304.14 516.53L304.54 516.64L304.94 516.75L305.35 516.86L305.75 516.97L306.15 517.08L306.55 517.18L306.95 517.29L307.35 517.40L307.75 517.50L308.16 517.61L308.56 517.71L308.96 517.82L309.36 517.92L309.76 518.02L310.16 518.12L310.56 518.22L310.97 518.33L311.37 518.43L311.77 518.52L312.17 518.62L312.57 518.72L312.97 518.82L313.37 518.91L313.78 519.01L314.18 519.11L314.58 519.20L314.98 519.30L315.38 519.39L315.78 519.48L316.19 519.57L316.59 519.67L316.99 519.76L317.39 519.85L317.79 519.94L318.19 520.03L318.59 520.12L319.00 520.20L319.40 520.29L319.80 520.38L320.20 520.47L320.60 520.55L321.00 520.64L321.40 520.72L321.81 520.81L322.21 520.89L322.61 520.97L323.01 521.06" fill="none" stroke="#c89a12" stroke-width="1.55" stroke-linejoin="round"/>
<rect x="48" y="536" width="35.5" height="1.8" fill="#6a1238"/>
<rect x="214.5" y="329.60" width="14.5" height="1.8" fill="#0e6e1a"/>
<rect x="214.5" y="343.35" width="14.5" height="1.5" fill="#c89a12"/>
<rect x="214.5" y="355.95" width="14.5" height="1.7" fill="#e8163e"/>
<rect x="214.5" y="368.70" width="14.5" height="1.8" fill="#111111"/>
<text x="33.60" y="13.82" fill="#000" style='font-family:"Liberation Sans", sans-serif;font-size:10.80px;' stroke="#000" stroke-width="0.40" textLength="16.38" lengthAdjust="spacingAndGlyphs">1.2</text>
<text x="33.75" y="47.70" fill="#000" style='font-family:"Liberation Sans", sans-serif;font-size:10.80px;' stroke="#000" stroke-width="0.40" textLength="16.31" lengthAdjust="spacingAndGlyphs">1.0</text>
<text x="33.10" y="88.30" fill="#000" style='font-family:"Liberation Sans", sans-serif;font-size:10.80px;' stroke="#000" stroke-width="0.40" textLength="16.03" lengthAdjust="spacingAndGlyphs">0.8</text>
<text x="31.82" y="129.20" fill="#000" style='font-family:"Liberation Sans", sans-serif;font-size:10.80px;' stroke="#000" stroke-width="0.40" textLength="16.12" lengthAdjust="spacingAndGlyphs">0.6</text>
<text x="31.80" y="169.62" fill="#000" style='font-family:"Liberation Sans", sans-serif;font-size:10.80px;' stroke="#000" stroke-width="0.40" textLength="16.19" lengthAdjust="spacingAndGlyphs">0.4</text>
<text x="31.80" y="206.72" fill="#000" style='font-family:"Liberation Sans", sans-serif;font-size:10.80px;' stroke="#000" stroke-width="0.40" textLength="16.05" lengthAdjust="spacingAndGlyphs">0.2</text>
<text x="37.80" y="243.22" fill="#000" style='font-family:"Liberation Sans", sans-serif;font-size:10.80px;' stroke="#000" stroke-width="0.40" textLength="6.98" lengthAdjust="spacingAndGlyphs">0</text>
<text x="0" y="0" fill="#000" style='font-family:"Liberation Sans", sans-serif;font-size:11.88px;font-style:italic;' stroke="#000" stroke-width="0.35" textLength="32.77" lengthAdjust="spacingAndGlyphs" transform="translate(24.05 133.28) rotate(-90) skewX(-10.0)">g(TOF)</text>
<text x="51.62" y="259.70" fill="#000" style='font-family:"Liberation Sans", sans-serif;font-size:10.80px;' stroke="#000" stroke-width="0.40" textLength="7.43" lengthAdjust="spacingAndGlyphs">0</text>
<text x="92.70" y="259.75" fill="#000" style='font-family:"Liberation Sans", sans-serif;font-size:10.80px;' stroke="#000" stroke-width="0.40" textLength="16.33" lengthAdjust="spacingAndGlyphs">0.1</text>
<text x="149.40" y="259.85" fill="#000" style='font-family:"Liberation Sans", sans-serif;font-size:10.80px;' stroke="#000" stroke-width="0.40" textLength="17.03" lengthAdjust="spacingAndGlyphs">0.2</text>
<text x="197.13" y="259.75" fill="#000" style='font-family:"Liberation Sans", sans-serif;font-size:10.80px;' stroke="#000" stroke-width="0.40" textLength="16.49" lengthAdjust="spacingAndGlyphs">0.3</text>
<text x="251.50" y="259.73" fill="#000" style='font-family:"Liberation Sans", sans-serif;font-size:10.80px;' stroke="#000" stroke-width="0.40" textLength="16.12" lengthAdjust="spacingAndGlyphs">0.4</text>
<text x="302.87" y="259.73" fill="#000" style='font-family:"Liberation Sans", sans-serif;font-size:10.80px;' stroke="#000" stroke-width="0.40" textLength="15.74" lengthAdjust="spacingAndGlyphs">0.5</text>
<text x="162.83" y="269.00" fill="#000" style='font-family:"Liberation Sans", sans-serif;font-size:10.90px;' stroke="#000" stroke-width="0.35" textLength="45.63" lengthAdjust="spacingAndGlyphs">TOF (ms)</text>
<text x="161.33" y="24.22" fill="#000" style='font-family:"Liberation Sans", sans-serif;font-size:11.78px;font-weight:bold;font-style:italic;' textLength="5.74" lengthAdjust="spacingAndGlyphs">T</text>
<text x="167.27" y="26.85" fill="#222" style='font-family:"Liberation Sans", sans-serif;font-size:7.99px;font-style:italic;' textLength="2.41" lengthAdjust="spacingAndGlyphs">i</text>
<text x="172.70" y="23.78" fill="#000" style='font-family:"Liberation Sans", sans-serif;font-size:11.09px;' stroke="#000" stroke-width="0.55" textLength="24.27" lengthAdjust="spacingAndGlyphs">(eV):</text>
<text x="225.23" y="26.10" fill="#1414d6" style='font-family:"Liberation Sans", sans-serif;font-size:8.72px;' stroke="#1414d6" stroke-width="0.45" textLength="10.32" lengthAdjust="spacingAndGlyphs">10</text>
<text x="224.65" y="39.50" fill="#ec1a5c" style='font-family:"Liberation Sans", sans-serif;font-size:8.95px;' stroke="#ec1a5c" stroke-width="0.45" textLength="10.60" lengthAdjust="spacingAndGlyphs">20</text>
<text x="224.80" y="52.97" fill="#1b8a22" style='font-family:"Liberation Sans", sans-serif;font-size:9.40px;' stroke="#1b8a22" stroke-width="0.45" textLength="10.32" lengthAdjust="spacingAndGlyphs">30</text>
<text x="224.90" y="66.30" fill="#c99d17" style='font-family:"Liberation Sans", sans-serif;font-size:9.17px;' stroke="#c99d17" stroke-width="0.45" textLength="10.39" lengthAdjust="spacingAndGlyphs">45</text>
<text x="280.28" y="46.95" fill="#000" style='font-family:"Liberation Sans", sans-serif;font-size:10.63px;' stroke="#000" stroke-width="0.30" textLength="15.19" lengthAdjust="spacingAndGlyphs">(a)</text>
<text x="20.22" y="299.07" fill="#000" style='font-family:"Liberation Sans", sans-serif;font-size:10.80px;' stroke="#000" stroke-width="0.40" textLength="16.05" lengthAdjust="spacingAndGlyphs">1.2</text>
<text x="20.68" y="333.38" fill="#000" style='font-family:"Liberation Sans", sans-serif;font-size:10.80px;' stroke="#000" stroke-width="0.40" textLength="16.16" lengthAdjust="spacingAndGlyphs">1.0</text>
<text x="19.42" y="375.95" fill="#000" style='font-family:"Liberation Sans", sans-serif;font-size:10.80px;' stroke="#000" stroke-width="0.40" textLength="16.78" lengthAdjust="spacingAndGlyphs">0.8</text>
<text x="18.18" y="418.27" fill="#000" style='font-family:"Liberation Sans", sans-serif;font-size:10.80px;' stroke="#000" stroke-width="0.40" textLength="16.79" lengthAdjust="spacingAndGlyphs">0.6</text>
<text x="18.05" y="460.47" fill="#000" style='font-family:"Liberation Sans", sans-serif;font-size:10.80px;' stroke="#000" stroke-width="0.40" textLength="16.85" lengthAdjust="spacingAndGlyphs">0.4</text>
<text x="17.82" y="499.22" fill="#000" style='font-family:"Liberation Sans", sans-serif;font-size:10.80px;' stroke="#000" stroke-width="0.40" textLength="16.94" lengthAdjust="spacingAndGlyphs">0.2</text>
<text x="24.45" y="537.33" fill="#000" style='font-family:"Liberation Sans", sans-serif;font-size:10.80px;' stroke="#000" stroke-width="0.40" textLength="7.05" lengthAdjust="spacingAndGlyphs">0</text>
<text x="0" y="0" fill="#000" style='font-family:"Liberation Sans", sans-serif;font-size:11.58px;font-style:italic;' stroke="#000" stroke-width="0.35" textLength="34.69" lengthAdjust="spacingAndGlyphs" transform="translate(10.50 422.45) rotate(-90) skewX(-10.0)">g(TOF)</text>
<text x="38.95" y="554.08" fill="#000" style='font-family:"Liberation Sans", sans-serif;font-size:10.80px;' stroke="#000" stroke-width="0.25" textLength="6.68" lengthAdjust="spacingAndGlyphs">0</text>
<text x="81.48" y="554.20" fill="#000" style='font-family:"Liberation Sans", sans-serif;font-size:10.80px;' stroke="#000" stroke-width="0.25" textLength="23.60" lengthAdjust="spacingAndGlyphs">0.05</text>
<text x="129.63" y="554.15" fill="#000" style='font-family:"Liberation Sans", sans-serif;font-size:10.80px;' stroke="#000" stroke-width="0.25" textLength="16.10" lengthAdjust="spacingAndGlyphs">0.1</text>
<text x="174.05" y="554.02" fill="#000" style='font-family:"Liberation Sans", sans-serif;font-size:10.80px;' stroke="#000" stroke-width="0.25" textLength="23.04" lengthAdjust="spacingAndGlyphs">0.15</text>
<text x="221.25" y="554.08" fill="#000" style='font-family:"Liberation Sans", sans-serif;font-size:10.80px;' stroke="#000" stroke-width="0.25" textLength="16.30" lengthAdjust="spacingAndGlyphs">0.2</text>
<text x="264.43" y="554.13" fill="#000" style='font-family:"Liberation Sans", sans-serif;font-size:10.80px;' stroke="#000" stroke-width="0.25" textLength="24.11" lengthAdjust="spacingAndGlyphs">0.25</text>
<text x="318.50" y="554.02" fill="#000" style='font-family:"Liberation Sans", sans-serif;font-size:10.80px;' stroke="#000" stroke-width="0.25" textLength="17.52" lengthAdjust="spacingAndGlyphs">0.3</text>
<text x="158.45" y="564.50" fill="#000" style='font-family:"Liberation Sans", sans-serif;font-size:11.00px;' stroke="#000" stroke-width="0.35" textLength="44.45" lengthAdjust="spacingAndGlyphs">TOF(ms)</text>
<text x="182.25" y="317.10" fill="#000" style='font-family:"Liberation Sans", sans-serif;font-size:11.89px;font-weight:bold;font-style:italic;' textLength="6.18" lengthAdjust="spacingAndGlyphs">v</text>
<text x="188.00" y="320.10" fill="#000" style='font-family:"Liberation Sans", sans-serif;font-size:8.01px;font-style:italic;' stroke="#000" stroke-width="0.35" textLength="10.40" lengthAdjust="spacingAndGlyphs">rot</text>
<text x="202.00" y="317.23" fill="#000" style='font-family:"Liberation Sans", sans-serif;font-size:10.55px;' stroke="#000" stroke-width="0.25" textLength="38.64" lengthAdjust="spacingAndGlyphs">(km/s):</text>
<text x="239.85" y="336.10" fill="#156e1c" style='font-family:"Liberation Sans", sans-serif;font-size:9.17px;' stroke="#156e1c" stroke-width="0.45" textLength="9.58" lengthAdjust="spacingAndGlyphs">-5</text>
<text x="243.63" y="347.75" fill="#c8901a" style='font-family:"Liberation Sans", sans-serif;font-size:10.09px;' stroke="#c8901a" stroke-width="0.45" textLength="6.32" lengthAdjust="spacingAndGlyphs">0</text>
<text x="242.80" y="362.05" fill="#e8163e" style='font-family:"Liberation Sans", sans-serif;font-size:10.79px;' stroke="#e8163e" stroke-width="0.45" textLength="6.69" lengthAdjust="spacingAndGlyphs">2</text>
<text x="243.28" y="374.30" fill="#111111" style='font-family:"Liberation Sans", sans-serif;font-size:10.33px;' stroke="#111111" stroke-width="0.45" textLength="6.44" lengthAdjust="spacingAndGlyphs">5</text>
<text x="276.38" y="333.27" fill="#000" style='font-family:"Liberation Sans", sans-serif;font-size:11.84px;' stroke="#000" stroke-width="0.30" textLength="15.56" lengthAdjust="spacingAndGlyphs">(b)</text>
</svg>
</body></html>
